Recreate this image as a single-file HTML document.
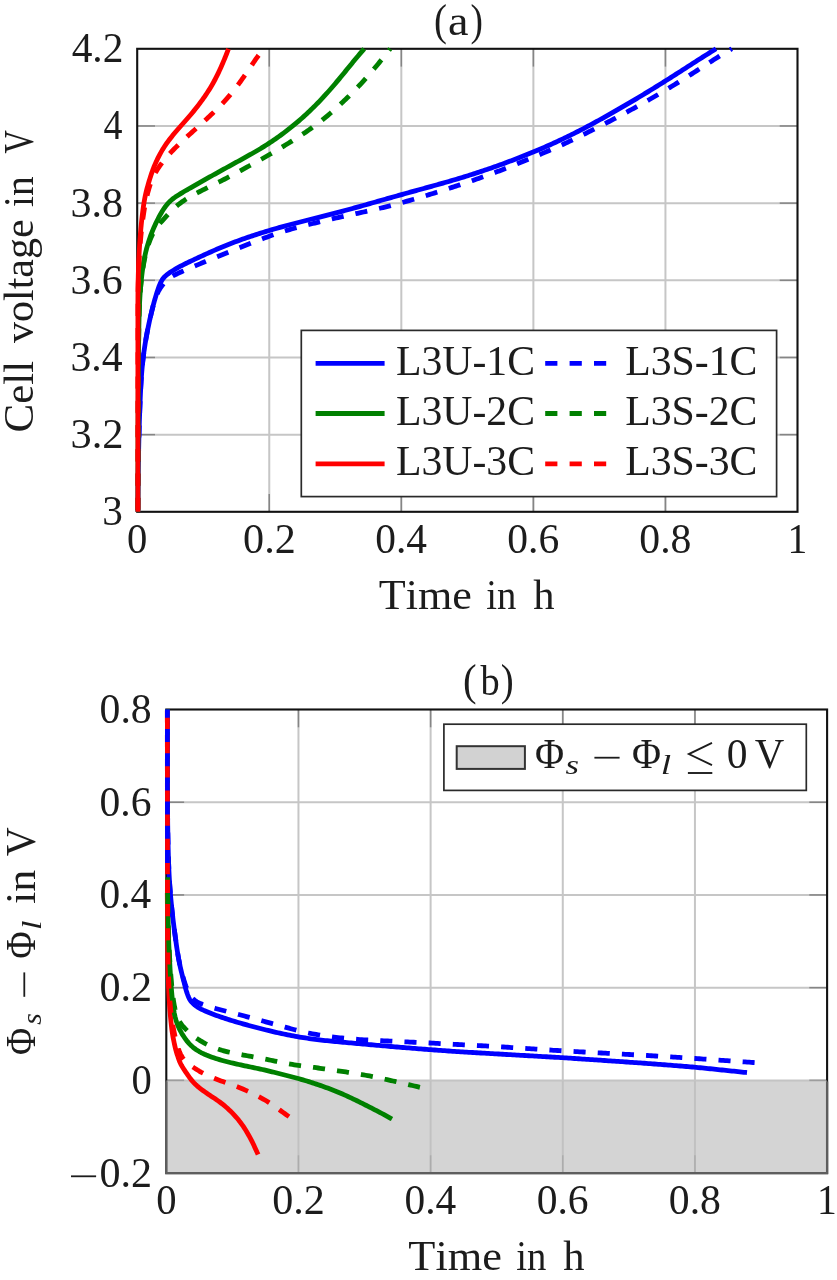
<!DOCTYPE html>
<html><head><meta charset="utf-8"><title>chart</title>
<style>
html,body{margin:0;padding:0;background:#fff;width:837px;height:1280px;overflow:hidden;}
svg{filter:blur(0.45px);}
svg text{font-family:"Liberation Serif",serif;fill:#1c1c1c;font-kerning:none;}
</style></head><body>
<svg width="837" height="1280" viewBox="0 0 837 1280" style="position:absolute;left:0;top:0">
<rect x="0" y="0" width="837" height="1280" fill="#ffffff"/>
<line x1="269.26" y1="48.80" x2="269.26" y2="511.80" stroke="#c6c6c6" stroke-width="2.0"/>
<line x1="401.32" y1="48.80" x2="401.32" y2="511.80" stroke="#c6c6c6" stroke-width="2.0"/>
<line x1="533.38" y1="48.80" x2="533.38" y2="511.80" stroke="#c6c6c6" stroke-width="2.0"/>
<line x1="665.44" y1="48.80" x2="665.44" y2="511.80" stroke="#c6c6c6" stroke-width="2.0"/>
<line x1="137.20" y1="434.63" x2="797.50" y2="434.63" stroke="#c6c6c6" stroke-width="2.0"/>
<line x1="137.20" y1="357.47" x2="797.50" y2="357.47" stroke="#c6c6c6" stroke-width="2.0"/>
<line x1="137.20" y1="280.30" x2="797.50" y2="280.30" stroke="#c6c6c6" stroke-width="2.0"/>
<line x1="137.20" y1="203.13" x2="797.50" y2="203.13" stroke="#c6c6c6" stroke-width="2.0"/>
<line x1="137.20" y1="125.97" x2="797.50" y2="125.97" stroke="#c6c6c6" stroke-width="2.0"/>
<line x1="269.26" y1="511.80" x2="269.26" y2="494.00" stroke="#858585" stroke-width="1.5"/>
<line x1="269.26" y1="48.80" x2="269.26" y2="66.60" stroke="#858585" stroke-width="1.5"/>
<line x1="401.32" y1="511.80" x2="401.32" y2="494.00" stroke="#858585" stroke-width="1.5"/>
<line x1="401.32" y1="48.80" x2="401.32" y2="66.60" stroke="#858585" stroke-width="1.5"/>
<line x1="533.38" y1="511.80" x2="533.38" y2="494.00" stroke="#858585" stroke-width="1.5"/>
<line x1="533.38" y1="48.80" x2="533.38" y2="66.60" stroke="#858585" stroke-width="1.5"/>
<line x1="665.44" y1="511.80" x2="665.44" y2="494.00" stroke="#858585" stroke-width="1.5"/>
<line x1="665.44" y1="48.80" x2="665.44" y2="66.60" stroke="#858585" stroke-width="1.5"/>
<line x1="137.20" y1="434.63" x2="155.00" y2="434.63" stroke="#858585" stroke-width="1.5"/>
<line x1="797.50" y1="434.63" x2="779.70" y2="434.63" stroke="#858585" stroke-width="1.5"/>
<line x1="137.20" y1="357.47" x2="155.00" y2="357.47" stroke="#858585" stroke-width="1.5"/>
<line x1="797.50" y1="357.47" x2="779.70" y2="357.47" stroke="#858585" stroke-width="1.5"/>
<line x1="137.20" y1="280.30" x2="155.00" y2="280.30" stroke="#858585" stroke-width="1.5"/>
<line x1="797.50" y1="280.30" x2="779.70" y2="280.30" stroke="#858585" stroke-width="1.5"/>
<line x1="137.20" y1="203.13" x2="155.00" y2="203.13" stroke="#858585" stroke-width="1.5"/>
<line x1="797.50" y1="203.13" x2="779.70" y2="203.13" stroke="#858585" stroke-width="1.5"/>
<line x1="137.20" y1="125.97" x2="155.00" y2="125.97" stroke="#858585" stroke-width="1.5"/>
<line x1="797.50" y1="125.97" x2="779.70" y2="125.97" stroke="#858585" stroke-width="1.5"/>
<rect x="137.20" y="48.80" width="660.30" height="463.00" fill="none" stroke="#111" stroke-width="2.1"/>
<path d="M137.90,511.80 L137.91,509.80 L137.93,507.80 L137.94,505.80 L137.96,503.80 L137.97,501.80 L137.99,499.80 L138.00,497.80 L138.01,495.80 L138.03,493.80 L138.04,491.80 L138.06,489.80 L138.08,487.80 L138.09,485.80 L138.11,483.80 L138.13,481.80 L138.15,479.80 L138.17,477.80 L138.19,475.80 L138.22,473.80 L138.25,471.80 L138.27,469.80 L138.30,467.80 L138.34,465.80 L138.37,463.80 L138.41,461.80 L138.44,459.80 L138.48,457.80 L138.52,455.80 L138.56,453.81 L138.61,451.81 L138.65,449.81 L138.69,447.81 L138.74,445.81 L138.78,443.81 L138.83,441.81 L138.87,439.81 L138.92,437.81 L138.97,435.81 L139.02,433.81 L139.07,431.81 L139.13,429.81 L139.18,427.81 L139.24,425.81 L139.30,423.81 L139.36,421.82 L139.43,419.82 L139.50,417.82 L139.56,415.82 L139.64,413.82 L139.71,411.82 L139.78,409.82 L139.86,407.83 L139.94,405.83 L140.02,403.83 L140.10,401.83 L140.18,399.83 L140.27,397.83 L140.35,395.84 L140.44,393.84 L140.54,391.84 L140.63,389.84 L140.74,387.85 L140.84,385.85 L140.96,383.85 L141.07,381.86 L141.20,379.86 L141.33,377.87 L141.47,375.87 L141.62,373.88 L141.78,371.89 L141.95,369.89 L142.12,367.90 L142.31,365.91 L142.51,363.92 L142.71,361.94 L142.93,359.95 L143.16,357.96 L143.40,355.98 L143.66,354.00 L143.92,352.02 L144.20,350.04 L144.49,348.06 L144.79,346.08 L145.10,344.11 L145.42,342.14 L145.75,340.17 L146.09,338.20 L146.45,336.23 L146.81,334.26 L147.18,332.30 L147.56,330.34 L147.95,328.38 L148.34,326.42 L148.75,324.46 L149.17,322.50 L149.59,320.55 L150.03,318.60 L150.48,316.65 L150.93,314.70 L151.38,312.76 L151.84,310.81 L152.32,308.87 L152.81,306.93 L153.31,305.00 L153.82,303.07 L154.35,301.14 L154.90,299.22 L155.46,297.30 L156.04,295.39 L156.63,293.48 L157.24,291.58 L157.87,289.68 L158.52,287.79 L159.21,285.92 L159.96,284.08 L160.78,282.27 L161.72,280.52 L162.78,278.85 L164.06,277.34 L165.49,275.96 L167.01,274.67 L168.60,273.47 L170.23,272.33 L171.90,271.23 L173.59,270.17 L175.30,269.14 L177.03,268.15 L178.78,267.18 L180.54,266.24 L182.31,265.31 L184.09,264.41 L185.88,263.52 L187.68,262.64 L189.48,261.77 L191.28,260.91 L193.09,260.05 L194.89,259.20 L196.71,258.36 L198.52,257.51 L200.33,256.67 L202.14,255.83 L203.96,254.99 L205.78,254.17 L207.60,253.34 L209.43,252.53 L211.26,251.72 L213.09,250.91 L214.92,250.11 L216.76,249.32 L218.59,248.54 L220.44,247.76 L222.28,246.99 L224.13,246.22 L225.98,245.47 L227.83,244.72 L229.69,243.98 L231.55,243.26 L233.42,242.54 L235.29,241.83 L237.16,241.13 L239.03,240.43 L240.91,239.75 L242.80,239.08 L244.68,238.42 L246.57,237.76 L248.46,237.12 L250.36,236.48 L252.25,235.85 L254.15,235.23 L256.06,234.61 L257.96,234.00 L259.87,233.39 L261.77,232.79 L263.68,232.20 L265.59,231.61 L267.51,231.03 L269.42,230.45 L271.34,229.88 L273.25,229.31 L275.17,228.75 L277.09,228.20 L279.02,227.65 L280.94,227.11 L282.87,226.58 L284.80,226.05 L286.73,225.53 L288.66,225.02 L290.59,224.51 L292.53,224.00 L294.46,223.50 L296.40,223.00 L298.34,222.50 L300.27,222.00 L302.21,221.51 L304.15,221.02 L306.09,220.52 L308.02,220.03 L309.96,219.53 L311.90,219.04 L313.84,218.55 L315.78,218.05 L317.71,217.56 L319.65,217.06 L321.59,216.57 L323.53,216.08 L325.47,215.58 L327.40,215.09 L329.34,214.59 L331.28,214.10 L333.22,213.60 L335.15,213.10 L337.09,212.59 L339.02,212.09 L340.96,211.58 L342.89,211.07 L344.82,210.55 L346.75,210.04 L348.69,209.51 L350.62,208.99 L352.54,208.46 L354.47,207.93 L356.40,207.40 L358.33,206.86 L360.25,206.32 L362.18,205.78 L364.10,205.24 L366.03,204.70 L367.95,204.15 L369.87,203.60 L371.80,203.05 L373.72,202.51 L375.64,201.96 L377.57,201.41 L379.49,200.86 L381.42,200.31 L383.34,199.77 L385.26,199.22 L387.19,198.67 L389.11,198.13 L391.03,197.58 L392.96,197.04 L394.88,196.49 L396.81,195.95 L398.73,195.41 L400.66,194.86 L402.58,194.32 L404.51,193.79 L406.44,193.25 L408.36,192.71 L410.29,192.18 L412.22,191.64 L414.14,191.11 L416.07,190.58 L418.00,190.05 L419.93,189.51 L421.86,188.98 L423.78,188.45 L425.71,187.92 L427.64,187.39 L429.57,186.85 L431.50,186.32 L433.42,185.78 L435.35,185.25 L437.28,184.71 L439.20,184.17 L441.13,183.63 L443.05,183.08 L444.97,182.54 L446.90,181.99 L448.82,181.43 L450.74,180.88 L452.66,180.32 L454.58,179.75 L456.49,179.18 L458.41,178.61 L460.33,178.03 L462.24,177.45 L464.15,176.86 L466.06,176.27 L467.97,175.68 L469.88,175.07 L471.78,174.47 L473.69,173.86 L475.59,173.24 L477.49,172.62 L479.39,172.00 L481.29,171.37 L483.19,170.74 L485.08,170.10 L486.98,169.46 L488.87,168.82 L490.76,168.17 L492.65,167.51 L494.53,166.85 L496.42,166.18 L498.30,165.51 L500.18,164.83 L502.06,164.14 L503.94,163.45 L505.81,162.75 L507.68,162.05 L509.55,161.35 L511.42,160.64 L513.29,159.92 L515.16,159.21 L517.03,158.49 L518.89,157.77 L520.75,157.04 L522.61,156.31 L524.47,155.58 L526.33,154.84 L528.19,154.09 L530.04,153.34 L531.89,152.59 L533.74,151.82 L535.59,151.06 L537.43,150.28 L539.27,149.50 L541.11,148.71 L542.95,147.92 L544.78,147.12 L546.61,146.32 L548.44,145.51 L550.26,144.70 L552.09,143.88 L553.91,143.05 L555.73,142.22 L557.54,141.38 L559.35,140.54 L561.16,139.68 L562.97,138.83 L564.77,137.96 L566.57,137.09 L568.37,136.22 L570.17,135.34 L571.96,134.45 L573.75,133.56 L575.53,132.66 L577.32,131.76 L579.10,130.85 L580.88,129.93 L582.65,129.01 L584.42,128.09 L586.19,127.16 L587.96,126.22 L589.72,125.28 L591.48,124.33 L593.24,123.38 L595.00,122.42 L596.75,121.45 L598.50,120.49 L600.25,119.52 L601.99,118.55 L603.74,117.57 L605.48,116.59 L607.23,115.61 L608.97,114.62 L610.71,113.64 L612.44,112.65 L614.18,111.66 L615.92,110.66 L617.65,109.67 L619.38,108.67 L621.12,107.67 L622.85,106.66 L624.58,105.66 L626.30,104.65 L628.03,103.65 L629.76,102.64 L631.48,101.62 L633.21,100.61 L634.93,99.59 L636.65,98.57 L638.37,97.55 L640.08,96.53 L641.80,95.50 L643.51,94.46 L645.22,93.43 L646.93,92.39 L648.64,91.35 L650.35,90.31 L652.05,89.26 L653.76,88.21 L655.46,87.16 L657.16,86.11 L658.86,85.06 L660.55,84.00 L662.25,82.94 L663.95,81.88 L665.64,80.82 L667.33,79.75 L669.02,78.68 L670.71,77.61 L672.40,76.54 L674.09,75.47 L675.77,74.39 L677.46,73.31 L679.14,72.23 L680.83,71.15 L682.51,70.07 L684.19,68.99 L685.87,67.91 L687.55,66.83 L689.23,65.74 L690.91,64.66 L692.59,63.58 L694.27,62.50 L695.95,61.43 L697.64,60.34 L699.32,59.26 L701.00,58.18 L702.69,57.11 L704.38,56.03 L706.07,54.97 L707.76,53.91 L709.46,52.85 L711.16,51.80 L712.86,50.74 L714.57,49.69 L716.00,48.80 L716.00,48.80" fill="none" stroke="#0000ff" stroke-width="4.8" stroke-linejoin="round"/>
<path d="M137.90,511.80 L137.91,509.80 L137.93,507.80 L137.94,505.80 L137.96,503.80 L137.97,501.80 L137.99,499.80 L138.00,497.80 L138.01,495.80 L138.03,493.80 L138.04,491.80 L138.06,489.80 L138.08,487.80 L138.09,485.80 L138.11,483.80 L138.13,481.80 L138.15,479.80 L138.17,477.80 L138.19,475.80 L138.22,473.80 L138.25,471.80 L138.27,469.80 L138.30,467.80 L138.34,465.80 L138.37,463.80 L138.41,461.80 L138.44,459.80 L138.48,457.80 L138.52,455.80 L138.56,453.81 L138.61,451.81 L138.65,449.81 L138.69,447.81 L138.74,445.81 L138.78,443.81 L138.83,441.81 L138.87,439.81 L138.92,437.81 L138.97,435.81 L139.02,433.81 L139.07,431.81 L139.13,429.81 L139.18,427.81 L139.24,425.81 L139.30,423.81 L139.36,421.82 L139.43,419.82 L139.50,417.82 L139.56,415.82 L139.64,413.82 L139.71,411.82 L139.78,409.82 L139.86,407.83 L139.94,405.83 L140.02,403.83 L140.10,401.83 L140.18,399.83 L140.27,397.83 L140.35,395.84 L140.44,393.84 L140.54,391.84 L140.63,389.84 L140.74,387.85 L140.84,385.85 L140.96,383.85 L141.07,381.86 L141.20,379.86 L141.33,377.87 L141.47,375.87 L141.62,373.88 L141.78,371.89 L141.95,369.89 L142.12,367.90 L142.31,365.91 L142.51,363.92 L142.71,361.94 L142.93,359.95 L143.16,357.96 L143.40,355.98 L143.66,354.00 L143.92,352.02 L144.20,350.04 L144.49,348.06 L144.79,346.08 L145.10,344.11 L145.42,342.14 L145.75,340.17 L146.09,338.20 L146.44,336.23 L146.81,334.26 L147.18,332.30 L147.56,330.34 L147.94,328.38 L148.34,326.42 L148.75,324.46 L149.17,322.51 L149.60,320.55 L150.04,318.61 L150.50,316.66 L150.95,314.72 L151.41,312.78 L151.89,310.84 L152.38,308.90 L152.88,306.97 L153.41,305.05 L153.96,303.13 L154.53,301.23 L155.15,299.34 L155.80,297.46 L156.51,295.61 L157.29,293.78 L158.13,291.99 L159.06,290.23 L160.07,288.52 L161.16,286.86 L162.33,285.24 L163.55,283.67 L164.84,282.15 L166.22,280.73 L167.72,279.43 L169.30,278.22 L170.93,277.09 L172.63,276.06 L174.37,275.11 L176.15,274.23 L177.95,273.38 L179.77,272.56 L181.59,271.74 L183.42,270.93 L185.25,270.13 L187.08,269.33 L188.91,268.53 L190.74,267.73 L192.58,266.94 L194.42,266.16 L196.26,265.38 L198.11,264.61 L199.95,263.84 L201.80,263.08 L203.65,262.31 L205.50,261.55 L207.35,260.80 L209.20,260.04 L211.05,259.29 L212.91,258.54 L214.76,257.79 L216.61,257.04 L218.47,256.29 L220.32,255.54 L222.17,254.78 L224.02,254.03 L225.87,253.27 L227.73,252.52 L229.58,251.76 L231.43,251.01 L233.28,250.25 L235.13,249.50 L236.99,248.75 L238.84,248.00 L240.70,247.25 L242.55,246.51 L244.41,245.77 L246.27,245.03 L248.13,244.29 L249.99,243.56 L251.85,242.83 L253.71,242.10 L255.58,241.38 L257.45,240.66 L259.31,239.95 L261.18,239.24 L263.05,238.53 L264.93,237.83 L266.80,237.14 L268.68,236.46 L270.56,235.78 L272.45,235.11 L274.33,234.45 L276.22,233.80 L278.12,233.16 L280.01,232.53 L281.91,231.92 L283.82,231.32 L285.73,230.73 L287.64,230.15 L289.56,229.58 L291.48,229.03 L293.40,228.49 L295.33,227.96 L297.26,227.44 L299.19,226.94 L301.13,226.43 L303.07,225.94 L305.00,225.45 L306.94,224.97 L308.89,224.49 L310.83,224.01 L312.77,223.54 L314.71,223.07 L316.66,222.60 L318.60,222.13 L320.55,221.66 L322.49,221.20 L324.44,220.74 L326.38,220.28 L328.33,219.82 L330.28,219.36 L332.23,218.91 L334.18,218.46 L336.12,218.01 L338.08,217.57 L340.03,217.13 L341.98,216.69 L343.93,216.26 L345.88,215.83 L347.84,215.40 L349.79,214.97 L351.74,214.55 L353.70,214.13 L355.65,213.70 L357.61,213.28 L359.56,212.86 L361.52,212.44 L363.47,212.02 L365.43,211.59 L367.38,211.16 L369.33,210.73 L371.28,210.29 L373.23,209.85 L375.18,209.41 L377.13,208.95 L379.08,208.50 L381.02,208.03 L382.97,207.56 L384.91,207.08 L386.85,206.60 L388.79,206.11 L390.72,205.61 L392.66,205.10 L394.59,204.59 L396.52,204.07 L398.45,203.55 L400.38,203.02 L402.31,202.49 L404.23,201.95 L406.16,201.41 L408.08,200.87 L410.01,200.32 L411.93,199.76 L413.85,199.21 L415.77,198.65 L417.69,198.08 L419.61,197.52 L421.52,196.95 L423.44,196.38 L425.35,195.80 L427.27,195.22 L429.18,194.64 L431.09,194.06 L433.01,193.47 L434.92,192.87 L436.82,192.28 L438.73,191.68 L440.64,191.08 L442.54,190.47 L444.45,189.86 L446.35,189.25 L448.26,188.63 L450.16,188.02 L452.06,187.39 L453.96,186.77 L455.86,186.15 L457.76,185.52 L459.66,184.89 L461.55,184.25 L463.45,183.62 L465.34,182.98 L467.24,182.34 L469.13,181.69 L471.02,181.05 L472.92,180.40 L474.81,179.74 L476.69,179.09 L478.58,178.43 L480.47,177.76 L482.35,177.09 L484.24,176.42 L486.12,175.75 L488.00,175.07 L489.88,174.38 L491.76,173.69 L493.63,173.00 L495.51,172.30 L497.38,171.60 L499.25,170.89 L501.12,170.18 L502.98,169.46 L504.85,168.74 L506.71,168.02 L508.57,167.29 L510.44,166.56 L512.30,165.82 L514.15,165.08 L516.01,164.34 L517.87,163.59 L519.72,162.85 L521.57,162.09 L523.43,161.34 L525.28,160.58 L527.13,159.83 L528.98,159.06 L530.83,158.30 L532.67,157.53 L534.52,156.76 L536.36,155.99 L538.21,155.22 L540.05,154.44 L541.89,153.66 L543.73,152.88 L545.57,152.09 L547.41,151.31 L549.25,150.51 L551.08,149.72 L552.91,148.92 L554.74,148.11 L556.57,147.30 L558.40,146.48 L560.22,145.66 L562.04,144.83 L563.85,144.00 L565.67,143.16 L567.48,142.31 L569.28,141.45 L571.09,140.59 L572.89,139.72 L574.69,138.85 L576.48,137.97 L578.28,137.09 L580.07,136.20 L581.86,135.31 L583.65,134.42 L585.44,133.53 L587.23,132.63 L589.02,131.73 L590.80,130.83 L592.59,129.94 L594.38,129.03 L596.16,128.13 L597.94,127.23 L599.73,126.32 L601.51,125.41 L603.29,124.50 L605.07,123.59 L606.85,122.67 L608.62,121.75 L610.40,120.83 L612.17,119.90 L613.94,118.97 L615.71,118.04 L617.47,117.10 L619.24,116.16 L621.00,115.22 L622.76,114.27 L624.53,113.33 L626.28,112.38 L628.04,111.42 L629.80,110.47 L631.55,109.51 L633.31,108.55 L635.06,107.58 L636.81,106.61 L638.56,105.64 L640.31,104.67 L642.05,103.70 L643.80,102.72 L645.54,101.74 L647.28,100.75 L649.02,99.76 L650.75,98.77 L652.48,97.77 L654.22,96.77 L655.94,95.76 L657.67,94.75 L659.39,93.74 L661.12,92.72 L662.84,91.70 L664.55,90.68 L666.27,89.65 L667.98,88.62 L669.70,87.59 L671.41,86.55 L673.11,85.51 L674.82,84.47 L676.53,83.42 L678.23,82.37 L679.93,81.32 L681.63,80.27 L683.33,79.21 L685.02,78.15 L686.72,77.09 L688.41,76.02 L690.10,74.95 L691.79,73.88 L693.47,72.80 L695.15,71.72 L696.84,70.64 L698.52,69.56 L700.20,68.47 L701.87,67.39 L703.55,66.30 L705.23,65.22 L706.91,64.13 L708.58,63.06 L710.26,61.98 L711.94,60.91 L713.62,59.82 L715.30,58.74 L716.99,57.67 L718.68,56.61 L720.38,55.55 L722.10,54.52 L723.82,53.50 L725.54,52.48 L727.27,51.46 L729.00,50.45 L730.73,49.43 L731.80,48.80 L731.80,48.80" fill="none" stroke="#0000ff" stroke-width="4.8" stroke-linejoin="round" stroke-dasharray="12.1 12.1" stroke-dashoffset="22.41"/>
<path d="M137.90,511.80 L137.90,509.80 L137.91,507.80 L137.91,505.80 L137.92,503.80 L137.92,501.80 L137.93,499.80 L137.93,497.80 L137.93,495.80 L137.94,493.80 L137.94,491.80 L137.95,489.80 L137.95,487.80 L137.96,485.80 L137.96,483.80 L137.97,481.80 L137.97,479.80 L137.97,477.80 L137.98,475.80 L137.98,473.80 L137.99,471.80 L137.99,469.80 L138.00,467.80 L138.00,465.80 L138.00,463.80 L138.01,461.80 L138.01,459.80 L138.02,457.80 L138.02,455.80 L138.03,453.80 L138.03,451.80 L138.04,449.80 L138.04,447.80 L138.04,445.80 L138.05,443.80 L138.05,441.80 L138.06,439.80 L138.06,437.80 L138.07,435.80 L138.07,433.80 L138.08,431.80 L138.08,429.80 L138.09,427.80 L138.10,425.80 L138.10,423.80 L138.11,421.80 L138.12,419.80 L138.13,417.80 L138.14,415.80 L138.15,413.80 L138.16,411.80 L138.17,409.80 L138.18,407.80 L138.19,405.80 L138.20,403.80 L138.22,401.80 L138.23,399.80 L138.24,397.80 L138.25,395.80 L138.26,393.80 L138.28,391.80 L138.29,389.80 L138.30,387.80 L138.31,385.80 L138.33,383.80 L138.34,381.80 L138.35,379.80 L138.36,377.80 L138.38,375.80 L138.39,373.80 L138.40,371.80 L138.41,369.80 L138.43,367.80 L138.44,365.80 L138.45,363.80 L138.47,361.80 L138.48,359.80 L138.49,357.80 L138.51,355.80 L138.52,353.80 L138.54,351.80 L138.56,349.80 L138.58,347.80 L138.60,345.80 L138.62,343.80 L138.64,341.80 L138.67,339.80 L138.70,337.80 L138.73,335.80 L138.76,333.80 L138.79,331.80 L138.82,329.80 L138.86,327.80 L138.90,325.81 L138.94,323.81 L138.98,321.81 L139.03,319.81 L139.08,317.81 L139.13,315.81 L139.19,313.81 L139.25,311.81 L139.32,309.81 L139.39,307.81 L139.47,305.82 L139.55,303.82 L139.65,301.82 L139.75,299.83 L139.86,297.83 L139.98,295.83 L140.11,293.84 L140.25,291.84 L140.40,289.85 L140.56,287.86 L140.73,285.87 L140.91,283.88 L141.10,281.89 L141.31,279.90 L141.52,277.91 L141.75,275.93 L141.99,273.94 L142.24,271.96 L142.51,269.98 L142.79,268.00 L143.08,266.03 L143.39,264.05 L143.72,262.09 L144.07,260.12 L144.44,258.16 L144.83,256.21 L145.25,254.26 L145.69,252.31 L146.16,250.38 L146.65,248.45 L147.18,246.53 L147.73,244.62 L148.32,242.72 L148.93,240.82 L149.53,238.93 L150.17,237.04 L150.84,235.16 L151.54,233.30 L152.27,231.44 L153.03,229.60 L153.82,227.76 L154.63,225.94 L155.47,224.12 L156.32,222.32 L157.20,220.52 L158.10,218.74 L159.02,216.97 L159.97,215.21 L160.95,213.46 L161.96,211.74 L163.01,210.04 L164.11,208.37 L165.26,206.75 L166.48,205.16 L167.75,203.63 L169.12,202.18 L170.55,200.80 L172.05,199.49 L173.62,198.26 L175.23,197.10 L176.88,195.99 L178.56,194.91 L180.26,193.86 L181.97,192.83 L183.69,191.81 L185.41,190.80 L187.14,189.80 L188.87,188.79 L190.60,187.80 L192.33,186.80 L194.07,185.81 L195.81,184.82 L197.54,183.83 L199.28,182.85 L201.02,181.86 L202.77,180.88 L204.51,179.89 L206.25,178.92 L208.00,177.94 L209.74,176.96 L211.49,175.99 L213.24,175.02 L214.98,174.04 L216.73,173.07 L218.48,172.10 L220.23,171.14 L221.98,170.17 L223.73,169.20 L225.49,168.24 L227.24,167.27 L228.99,166.31 L230.74,165.34 L232.50,164.38 L234.25,163.42 L236.00,162.45 L237.75,161.49 L239.51,160.53 L241.26,159.56 L243.01,158.60 L244.76,157.63 L246.51,156.66 L248.25,155.69 L250.00,154.71 L251.74,153.72 L253.47,152.73 L255.21,151.74 L256.93,150.73 L258.66,149.72 L260.37,148.69 L262.08,147.65 L263.78,146.61 L265.47,145.54 L267.16,144.47 L268.83,143.38 L270.50,142.29 L272.16,141.18 L273.81,140.05 L275.46,138.92 L277.10,137.77 L278.73,136.62 L280.35,135.45 L281.96,134.28 L283.57,133.09 L285.17,131.89 L286.76,130.68 L288.34,129.46 L289.91,128.23 L291.48,126.98 L293.03,125.73 L294.57,124.46 L296.10,123.18 L297.63,121.88 L299.14,120.58 L300.64,119.27 L302.14,117.94 L303.62,116.60 L305.10,115.26 L306.57,113.90 L308.03,112.54 L309.48,111.17 L310.93,109.79 L312.36,108.40 L313.79,107.00 L315.21,105.59 L316.61,104.17 L318.01,102.74 L319.40,101.31 L320.78,99.86 L322.15,98.41 L323.51,96.94 L324.86,95.47 L326.21,93.99 L327.54,92.50 L328.87,91.01 L330.19,89.51 L331.50,88.00 L332.81,86.49 L334.11,84.97 L335.40,83.45 L336.69,81.92 L337.98,80.38 L339.26,78.85 L340.53,77.31 L341.80,75.77 L343.07,74.22 L344.34,72.68 L345.60,71.13 L346.86,69.59 L348.12,68.05 L349.38,66.51 L350.64,64.95 L351.90,63.40 L353.16,61.85 L354.42,60.30 L355.70,58.75 L356.98,57.21 L358.27,55.69 L359.58,54.17 L360.88,52.65 L362.20,51.13 L363.51,49.60 L364.20,48.80 L364.20,48.80" fill="none" stroke="#008000" stroke-width="4.8" stroke-linejoin="round"/>
<path d="M137.90,511.80 L137.90,509.80 L137.91,507.80 L137.91,505.80 L137.92,503.80 L137.92,501.80 L137.93,499.80 L137.93,497.80 L137.93,495.80 L137.94,493.80 L137.94,491.80 L137.95,489.80 L137.95,487.80 L137.96,485.80 L137.96,483.80 L137.97,481.80 L137.97,479.80 L137.97,477.80 L137.98,475.80 L137.98,473.80 L137.99,471.80 L137.99,469.80 L138.00,467.80 L138.00,465.80 L138.00,463.80 L138.01,461.80 L138.01,459.80 L138.02,457.80 L138.02,455.80 L138.03,453.80 L138.03,451.80 L138.04,449.80 L138.04,447.80 L138.04,445.80 L138.05,443.80 L138.05,441.80 L138.06,439.80 L138.06,437.80 L138.07,435.80 L138.07,433.80 L138.08,431.80 L138.08,429.80 L138.09,427.80 L138.10,425.80 L138.10,423.80 L138.11,421.80 L138.12,419.80 L138.13,417.80 L138.14,415.80 L138.15,413.80 L138.16,411.80 L138.17,409.80 L138.18,407.80 L138.19,405.80 L138.20,403.80 L138.22,401.80 L138.23,399.80 L138.24,397.80 L138.25,395.80 L138.26,393.80 L138.28,391.80 L138.29,389.80 L138.30,387.80 L138.31,385.80 L138.33,383.80 L138.34,381.80 L138.35,379.80 L138.36,377.80 L138.38,375.80 L138.39,373.80 L138.40,371.80 L138.41,369.80 L138.43,367.80 L138.44,365.80 L138.45,363.80 L138.47,361.80 L138.48,359.80 L138.49,357.80 L138.51,355.80 L138.52,353.80 L138.54,351.80 L138.56,349.80 L138.58,347.80 L138.60,345.80 L138.62,343.80 L138.64,341.80 L138.67,339.80 L138.70,337.80 L138.73,335.80 L138.76,333.80 L138.79,331.80 L138.82,329.80 L138.86,327.80 L138.90,325.81 L138.94,323.81 L138.98,321.81 L139.03,319.81 L139.08,317.81 L139.13,315.81 L139.19,313.81 L139.25,311.81 L139.32,309.81 L139.39,307.81 L139.47,305.82 L139.56,303.82 L139.65,301.82 L139.76,299.83 L139.87,297.83 L140.00,295.84 L140.13,293.84 L140.28,291.85 L140.43,289.86 L140.60,287.86 L140.78,285.87 L140.98,283.88 L141.18,281.90 L141.40,279.91 L141.63,277.93 L141.88,275.94 L142.13,273.96 L142.41,271.98 L142.69,270.00 L142.99,268.03 L143.31,266.06 L143.64,264.09 L143.99,262.12 L144.36,260.16 L144.75,258.21 L145.17,256.26 L145.61,254.32 L146.08,252.39 L146.58,250.47 L147.12,248.56 L147.69,246.67 L148.31,244.80 L148.98,242.95 L149.68,241.11 L150.37,239.26 L151.11,237.44 L151.91,235.65 L152.77,233.88 L153.69,232.15 L154.69,230.45 L155.75,228.79 L156.89,227.18 L158.09,225.60 L159.35,224.06 L160.65,222.55 L161.97,221.05 L163.31,219.57 L164.65,218.09 L165.99,216.60 L167.33,215.12 L168.68,213.65 L170.05,212.20 L171.47,210.79 L172.91,209.41 L174.38,208.05 L175.87,206.72 L177.39,205.43 L178.95,204.18 L180.53,202.97 L182.14,201.80 L183.78,200.66 L185.45,199.57 L187.14,198.50 L188.84,197.47 L190.57,196.47 L192.31,195.49 L194.06,194.53 L195.82,193.59 L197.59,192.67 L199.37,191.76 L201.15,190.86 L202.94,189.96 L204.72,189.06 L206.51,188.17 L208.30,187.28 L210.09,186.40 L211.88,185.52 L213.68,184.64 L215.47,183.75 L217.26,182.86 L219.05,181.97 L220.83,181.07 L222.62,180.16 L224.39,179.25 L226.17,178.33 L227.94,177.40 L229.71,176.47 L231.47,175.53 L233.23,174.59 L234.99,173.64 L236.75,172.69 L238.51,171.73 L240.27,170.78 L242.02,169.82 L243.78,168.86 L245.53,167.90 L247.29,166.95 L249.05,165.99 L250.80,165.03 L252.56,164.07 L254.31,163.11 L256.06,162.15 L257.81,161.18 L259.56,160.21 L261.31,159.24 L263.05,158.26 L264.79,157.27 L266.53,156.28 L268.26,155.29 L269.99,154.28 L271.72,153.28 L273.44,152.26 L275.16,151.24 L276.88,150.22 L278.59,149.19 L280.31,148.16 L282.02,147.13 L283.73,146.09 L285.43,145.05 L287.14,144.00 L288.84,142.96 L290.54,141.91 L292.24,140.85 L293.94,139.79 L295.63,138.73 L297.32,137.65 L299.00,136.57 L300.67,135.49 L302.34,134.39 L304.01,133.28 L305.66,132.16 L307.31,131.03 L308.95,129.89 L310.58,128.73 L312.20,127.57 L313.81,126.39 L315.42,125.20 L317.01,124.00 L318.60,122.79 L320.18,121.57 L321.75,120.34 L323.32,119.09 L324.87,117.84 L326.41,116.57 L327.95,115.29 L329.48,114.00 L330.99,112.70 L332.50,111.40 L334.01,110.08 L335.50,108.75 L336.99,107.41 L338.47,106.07 L339.94,104.72 L341.40,103.36 L342.86,101.99 L344.31,100.61 L345.75,99.23 L347.19,97.84 L348.62,96.44 L350.04,95.04 L351.45,93.63 L352.86,92.21 L354.26,90.78 L355.65,89.35 L357.04,87.90 L358.41,86.45 L359.78,85.00 L361.14,83.53 L362.48,82.06 L363.83,80.57 L365.16,79.09 L366.48,77.59 L367.80,76.09 L369.11,74.58 L370.41,73.06 L371.71,71.55 L373.00,70.02 L374.28,68.50 L375.56,66.97 L376.85,65.45 L378.13,63.91 L379.41,62.37 L380.68,60.83 L381.95,59.28 L383.21,57.72 L384.46,56.16 L385.70,54.59 L386.93,53.01 L388.16,51.43 L389.39,49.84 L390.20,48.80 L390.20,48.80" fill="none" stroke="#008000" stroke-width="4.8" stroke-linejoin="round" stroke-dasharray="12.1 12.1" stroke-dashoffset="22.44"/>
<path d="M137.90,511.80 L137.90,509.80 L137.90,507.80 L137.90,505.80 L137.90,503.80 L137.90,501.80 L137.90,499.80 L137.90,497.80 L137.90,495.80 L137.90,493.80 L137.90,491.80 L137.90,489.80 L137.90,487.80 L137.90,485.80 L137.90,483.80 L137.90,481.80 L137.90,479.80 L137.90,477.80 L137.90,475.80 L137.90,473.80 L137.90,471.80 L137.90,469.80 L137.90,467.80 L137.90,465.80 L137.90,463.80 L137.90,461.80 L137.90,459.80 L137.90,457.80 L137.90,455.80 L137.90,453.80 L137.90,451.80 L137.90,449.80 L137.90,447.80 L137.90,445.80 L137.90,443.80 L137.90,441.80 L137.90,439.80 L137.90,437.80 L137.90,435.80 L137.90,433.80 L137.90,431.80 L137.90,429.80 L137.90,427.80 L137.90,425.80 L137.90,423.80 L137.90,421.80 L137.90,419.80 L137.90,417.80 L137.90,415.80 L137.90,413.80 L137.90,411.80 L137.90,409.80 L137.90,407.80 L137.90,405.80 L137.90,403.80 L137.90,401.80 L137.90,399.80 L137.90,397.80 L137.90,395.80 L137.90,393.80 L137.90,391.80 L137.90,389.80 L137.90,387.80 L137.90,385.80 L137.90,383.80 L137.90,381.80 L137.90,379.80 L137.90,377.80 L137.90,375.80 L137.90,373.80 L137.90,371.80 L137.90,369.80 L137.90,367.80 L137.90,365.80 L137.90,363.80 L137.90,361.80 L137.90,359.80 L137.90,357.80 L137.90,355.80 L137.90,353.80 L137.90,351.80 L137.90,349.80 L137.90,347.80 L137.90,345.80 L137.90,343.80 L137.90,341.80 L137.90,339.80 L137.90,337.80 L137.90,335.80 L137.90,333.80 L137.90,331.80 L137.90,329.80 L137.90,327.80 L137.90,325.80 L137.90,323.80 L137.90,321.80 L137.90,319.80 L137.90,317.80 L137.90,315.80 L137.90,313.80 L137.90,311.80 L137.90,309.80 L137.90,307.80 L137.91,305.80 L137.91,303.80 L137.91,301.80 L137.92,299.80 L137.93,297.80 L137.94,295.80 L137.96,293.80 L137.98,291.80 L138.00,289.80 L138.02,287.80 L138.06,285.80 L138.09,283.80 L138.13,281.80 L138.17,279.80 L138.22,277.80 L138.27,275.80 L138.32,273.81 L138.38,271.81 L138.44,269.81 L138.51,267.81 L138.58,265.81 L138.65,263.81 L138.73,261.81 L138.82,259.82 L138.91,257.82 L139.00,255.82 L139.10,253.82 L139.21,251.83 L139.32,249.83 L139.44,247.83 L139.56,245.84 L139.69,243.84 L139.82,241.85 L139.96,239.85 L140.11,237.86 L140.26,235.86 L140.42,233.87 L140.59,231.88 L140.76,229.89 L140.94,227.89 L141.13,225.90 L141.32,223.91 L141.53,221.92 L141.74,219.94 L141.96,217.95 L142.19,215.96 L142.43,213.98 L142.67,211.99 L142.93,210.01 L143.19,208.03 L143.48,206.05 L143.78,204.08 L144.10,202.11 L144.44,200.14 L144.80,198.18 L145.19,196.22 L145.61,194.27 L146.06,192.32 L146.54,190.38 L147.04,188.45 L147.56,186.52 L148.10,184.59 L148.65,182.67 L149.22,180.75 L149.81,178.84 L150.41,176.93 L151.04,175.04 L151.68,173.14 L152.34,171.26 L153.02,169.38 L153.73,167.51 L154.48,165.66 L155.26,163.82 L156.07,162.00 L156.91,160.19 L157.78,158.39 L158.68,156.61 L159.60,154.84 L160.54,153.08 L161.52,151.35 L162.53,149.63 L163.58,147.93 L164.66,146.26 L165.77,144.62 L166.91,142.99 L168.09,141.38 L169.27,139.78 L170.48,138.20 L171.72,136.64 L172.97,135.09 L174.25,133.55 L175.53,132.03 L176.84,130.51 L178.15,129.00 L179.47,127.50 L180.79,126.00 L182.11,124.51 L183.44,123.01 L184.77,121.51 L186.09,120.01 L187.41,118.51 L188.72,117.00 L190.02,115.49 L191.31,113.96 L192.59,112.43 L193.86,110.89 L195.11,109.33 L196.35,107.77 L197.58,106.19 L198.79,104.60 L199.99,103.01 L201.18,101.40 L202.35,99.79 L203.51,98.16 L204.66,96.52 L205.79,94.88 L206.90,93.22 L207.99,91.55 L209.07,89.87 L210.12,88.17 L211.15,86.47 L212.16,84.74 L213.15,83.01 L214.11,81.26 L215.05,79.50 L215.98,77.73 L216.88,75.95 L217.76,74.16 L218.62,72.36 L219.46,70.56 L220.28,68.74 L221.10,66.92 L221.92,65.10 L222.72,63.27 L223.49,61.43 L224.26,59.58 L225.01,57.73 L225.77,55.88 L226.52,54.02 L227.25,52.16 L227.95,50.28 L228.50,48.80 L228.50,48.80" fill="none" stroke="#ff0000" stroke-width="4.8" stroke-linejoin="round"/>
<path d="M137.90,511.80 L137.90,509.80 L137.90,507.80 L137.90,505.80 L137.90,503.80 L137.90,501.80 L137.90,499.80 L137.90,497.80 L137.90,495.80 L137.90,493.80 L137.90,491.80 L137.90,489.80 L137.90,487.80 L137.90,485.80 L137.90,483.80 L137.90,481.80 L137.90,479.80 L137.90,477.80 L137.90,475.80 L137.90,473.80 L137.90,471.80 L137.90,469.80 L137.90,467.80 L137.90,465.80 L137.90,463.80 L137.90,461.80 L137.90,459.80 L137.90,457.80 L137.90,455.80 L137.90,453.80 L137.90,451.80 L137.90,449.80 L137.90,447.80 L137.90,445.80 L137.90,443.80 L137.90,441.80 L137.90,439.80 L137.90,437.80 L137.90,435.80 L137.90,433.80 L137.90,431.80 L137.90,429.80 L137.90,427.80 L137.90,425.80 L137.90,423.80 L137.90,421.80 L137.90,419.80 L137.90,417.80 L137.90,415.80 L137.90,413.80 L137.90,411.80 L137.90,409.80 L137.90,407.80 L137.90,405.80 L137.90,403.80 L137.90,401.80 L137.90,399.80 L137.90,397.80 L137.90,395.80 L137.90,393.80 L137.90,391.80 L137.90,389.80 L137.90,387.80 L137.90,385.80 L137.90,383.80 L137.90,381.80 L137.90,379.80 L137.90,377.80 L137.90,375.80 L137.90,373.80 L137.90,371.80 L137.90,369.80 L137.90,367.80 L137.90,365.80 L137.90,363.80 L137.90,361.80 L137.90,359.80 L137.90,357.80 L137.90,355.80 L137.90,353.80 L137.90,351.80 L137.90,349.80 L137.90,347.80 L137.90,345.80 L137.90,343.80 L137.90,341.80 L137.90,339.80 L137.90,337.80 L137.90,335.80 L137.91,333.80 L137.91,331.80 L137.91,329.80 L137.91,327.80 L137.92,325.80 L137.92,323.80 L137.92,321.80 L137.93,319.80 L137.93,317.80 L137.94,315.80 L137.94,313.80 L137.95,311.80 L137.95,309.80 L137.96,307.80 L137.97,305.80 L137.98,303.80 L137.99,301.80 L138.00,299.80 L138.02,297.80 L138.04,295.80 L138.06,293.80 L138.09,291.80 L138.12,289.80 L138.16,287.80 L138.20,285.80 L138.25,283.80 L138.30,281.81 L138.36,279.81 L138.42,277.81 L138.48,275.81 L138.55,273.81 L138.63,271.81 L138.71,269.81 L138.79,267.82 L138.88,265.82 L138.97,263.82 L139.07,261.82 L139.17,259.83 L139.28,257.83 L139.40,255.83 L139.52,253.84 L139.65,251.84 L139.79,249.85 L139.93,247.85 L140.08,245.86 L140.23,243.86 L140.39,241.87 L140.56,239.88 L140.74,237.89 L140.93,235.90 L141.12,233.91 L141.32,231.92 L141.53,229.93 L141.75,227.94 L141.98,225.95 L142.21,223.97 L142.46,221.99 L142.72,220.00 L142.99,218.02 L143.27,216.04 L143.56,214.07 L143.86,212.09 L144.17,210.12 L144.51,208.15 L144.86,206.18 L145.22,204.22 L145.61,202.26 L146.02,200.30 L146.45,198.35 L146.89,196.40 L147.36,194.46 L147.86,192.52 L148.38,190.60 L148.92,188.67 L149.50,186.76 L150.11,184.86 L150.76,182.97 L151.44,181.10 L152.18,179.24 L152.96,177.41 L153.83,175.62 L154.76,173.86 L155.74,172.13 L156.78,170.42 L157.85,168.74 L158.96,167.08 L160.10,165.44 L161.27,163.83 L162.47,162.23 L163.70,160.66 L164.96,159.12 L166.24,157.59 L167.55,156.08 L168.88,154.59 L170.23,153.12 L171.59,151.66 L172.97,150.22 L174.37,148.79 L175.78,147.38 L177.20,145.97 L178.63,144.57 L180.06,143.19 L181.51,141.81 L182.97,140.44 L184.44,139.08 L185.91,137.73 L187.39,136.38 L188.87,135.04 L190.35,133.70 L191.84,132.36 L193.32,131.03 L194.81,129.69 L196.30,128.35 L197.78,127.01 L199.27,125.67 L200.75,124.32 L202.22,122.98 L203.70,121.63 L205.17,120.27 L206.64,118.92 L208.10,117.55 L209.56,116.18 L211.01,114.81 L212.46,113.43 L213.90,112.04 L215.33,110.65 L216.75,109.24 L218.17,107.83 L219.57,106.41 L220.97,104.98 L222.35,103.54 L223.72,102.09 L225.07,100.62 L226.41,99.14 L227.73,97.64 L229.04,96.13 L230.33,94.60 L231.60,93.07 L232.86,91.51 L234.10,89.95 L235.33,88.38 L236.54,86.79 L237.75,85.19 L238.94,83.59 L240.12,81.98 L241.29,80.36 L242.45,78.73 L243.61,77.10 L244.75,75.47 L245.89,73.83 L247.02,72.19 L248.16,70.55 L249.28,68.90 L250.40,67.24 L251.52,65.58 L252.62,63.91 L253.72,62.24 L254.83,60.57 L255.97,58.92 L257.14,57.30 L258.29,55.72 L258.60,55.30" fill="none" stroke="#ff0000" stroke-width="4.8" stroke-linejoin="round" stroke-dasharray="12.1 12.1" stroke-dashoffset="21.98"/>
<rect x="301.3" y="330.4" width="475.3" height="166.2" fill="#fff" stroke="#2a2a2a" stroke-width="1.7"/>
<line x1="315.6" y1="363.30" x2="384.6" y2="363.30" stroke="#0000ff" stroke-width="4.8"/>
<line x1="545.2" y1="363.30" x2="613.8" y2="363.30" stroke="#0000ff" stroke-width="4.8" stroke-dasharray="12.2 12.2"/>
<text x="395.90" y="374.80" font-size="42.50" textLength="139.21" lengthAdjust="spacingAndGlyphs" style="" >L3U-1C</text>
<text x="625.20" y="374.80" font-size="42.50" textLength="132.31" lengthAdjust="spacingAndGlyphs" style="" >L3S-1C</text>
<line x1="315.6" y1="413.50" x2="384.6" y2="413.50" stroke="#008000" stroke-width="4.8"/>
<line x1="545.2" y1="413.50" x2="613.8" y2="413.50" stroke="#008000" stroke-width="4.8" stroke-dasharray="12.2 12.2"/>
<text x="395.90" y="425.00" font-size="42.50" textLength="139.21" lengthAdjust="spacingAndGlyphs" style="" >L3U-2C</text>
<text x="625.20" y="425.00" font-size="42.50" textLength="132.31" lengthAdjust="spacingAndGlyphs" style="" >L3S-2C</text>
<line x1="315.6" y1="463.80" x2="384.6" y2="463.80" stroke="#ff0000" stroke-width="4.8"/>
<line x1="545.2" y1="463.80" x2="613.8" y2="463.80" stroke="#ff0000" stroke-width="4.8" stroke-dasharray="12.2 12.2"/>
<text x="395.90" y="475.30" font-size="42.50" textLength="139.21" lengthAdjust="spacingAndGlyphs" style="" >L3U-3C</text>
<text x="625.20" y="475.30" font-size="42.50" textLength="132.31" lengthAdjust="spacingAndGlyphs" style="" >L3S-3C</text>
<text x="127.04" y="553.30" font-size="42.00" textLength="20.31" lengthAdjust="spacingAndGlyphs" style="" >0</text>
<text x="243.10" y="553.30" font-size="42.00" textLength="52.63" lengthAdjust="spacingAndGlyphs" style="" >0.2</text>
<text x="375.19" y="553.30" font-size="42.00" textLength="51.74" lengthAdjust="spacingAndGlyphs" style="" >0.4</text>
<text x="507.24" y="553.30" font-size="42.00" textLength="51.93" lengthAdjust="spacingAndGlyphs" style="" >0.6</text>
<text x="639.30" y="553.30" font-size="42.00" textLength="52.08" lengthAdjust="spacingAndGlyphs" style="" >0.8</text>
<text x="787.46" y="553.30" font-size="42.00" textLength="19.80" lengthAdjust="spacingAndGlyphs" style="" >1</text>
<text x="102.37" y="525.30" font-size="42.00" textLength="20.59" lengthAdjust="spacingAndGlyphs" style="" >3</text>
<text x="70.42" y="448.13" font-size="42.00" textLength="53.07" lengthAdjust="spacingAndGlyphs" style="" >3.2</text>
<text x="70.45" y="370.97" font-size="42.00" textLength="52.17" lengthAdjust="spacingAndGlyphs" style="" >3.4</text>
<text x="70.45" y="293.80" font-size="42.00" textLength="52.36" lengthAdjust="spacingAndGlyphs" style="" >3.6</text>
<text x="70.44" y="216.63" font-size="42.00" textLength="52.52" lengthAdjust="spacingAndGlyphs" style="" >3.8</text>
<text x="103.60" y="139.47" font-size="42.00" textLength="18.96" lengthAdjust="spacingAndGlyphs" style="" >4</text>
<text x="71.64" y="62.30" font-size="42.00" textLength="51.80" lengthAdjust="spacingAndGlyphs" style="" >4.2</text>
<text x="378.80" y="609.20" font-size="42.50" textLength="93.13" lengthAdjust="spacingAndGlyphs" style="" >Time</text>
<text x="486.29" y="609.20" font-size="42.50" textLength="30.10" lengthAdjust="spacingAndGlyphs" style="" >in</text>
<text x="533.28" y="609.20" font-size="42.50" textLength="21.28" lengthAdjust="spacingAndGlyphs" style="" >h</text>
<g transform="translate(33.2,0) rotate(-90)"><text x="-432.47" y="0.00" font-size="42.50" textLength="71.73" lengthAdjust="spacingAndGlyphs" style="" >Cell</text><text x="-343.00" y="0.00" font-size="42.50" textLength="123.66" lengthAdjust="spacingAndGlyphs" style="" >voltage</text><text x="-207.03" y="0.00" font-size="42.50" textLength="30.62" lengthAdjust="spacingAndGlyphs" style="" >in</text><text x="-153.46" y="0.00" font-size="42.50" textLength="23.33" lengthAdjust="spacingAndGlyphs" style="" >V</text></g>
<text x="434.09" y="34.90" font-size="45.00" textLength="12.97" lengthAdjust="spacingAndGlyphs" style="" >(</text>
<text x="447.98" y="34.70" font-size="41.50" textLength="20.45" lengthAdjust="spacingAndGlyphs" style="" >a</text>
<text x="470.40" y="34.90" font-size="45.00" textLength="12.45" lengthAdjust="spacingAndGlyphs" style="" >)</text>
<line x1="298.46" y1="709.50" x2="298.46" y2="1173.10" stroke="#c6c6c6" stroke-width="2.0"/>
<line x1="430.62" y1="709.50" x2="430.62" y2="1173.10" stroke="#c6c6c6" stroke-width="2.0"/>
<line x1="562.78" y1="709.50" x2="562.78" y2="1173.10" stroke="#c6c6c6" stroke-width="2.0"/>
<line x1="694.94" y1="709.50" x2="694.94" y2="1173.10" stroke="#c6c6c6" stroke-width="2.0"/>
<line x1="166.30" y1="1080.38" x2="827.10" y2="1080.38" stroke="#c6c6c6" stroke-width="2.0"/>
<line x1="166.30" y1="987.66" x2="827.10" y2="987.66" stroke="#c6c6c6" stroke-width="2.0"/>
<line x1="166.30" y1="894.94" x2="827.10" y2="894.94" stroke="#c6c6c6" stroke-width="2.0"/>
<line x1="166.30" y1="802.22" x2="827.10" y2="802.22" stroke="#c6c6c6" stroke-width="2.0"/>
<line x1="298.46" y1="1173.10" x2="298.46" y2="1155.30" stroke="#858585" stroke-width="1.5"/>
<line x1="298.46" y1="709.50" x2="298.46" y2="727.30" stroke="#858585" stroke-width="1.5"/>
<line x1="430.62" y1="1173.10" x2="430.62" y2="1155.30" stroke="#858585" stroke-width="1.5"/>
<line x1="430.62" y1="709.50" x2="430.62" y2="727.30" stroke="#858585" stroke-width="1.5"/>
<line x1="562.78" y1="1173.10" x2="562.78" y2="1155.30" stroke="#858585" stroke-width="1.5"/>
<line x1="562.78" y1="709.50" x2="562.78" y2="727.30" stroke="#858585" stroke-width="1.5"/>
<line x1="694.94" y1="1173.10" x2="694.94" y2="1155.30" stroke="#858585" stroke-width="1.5"/>
<line x1="694.94" y1="709.50" x2="694.94" y2="727.30" stroke="#858585" stroke-width="1.5"/>
<line x1="166.30" y1="1080.38" x2="184.10" y2="1080.38" stroke="#858585" stroke-width="1.5"/>
<line x1="827.10" y1="1080.38" x2="809.30" y2="1080.38" stroke="#858585" stroke-width="1.5"/>
<line x1="166.30" y1="987.66" x2="184.10" y2="987.66" stroke="#858585" stroke-width="1.5"/>
<line x1="827.10" y1="987.66" x2="809.30" y2="987.66" stroke="#858585" stroke-width="1.5"/>
<line x1="166.30" y1="894.94" x2="184.10" y2="894.94" stroke="#858585" stroke-width="1.5"/>
<line x1="827.10" y1="894.94" x2="809.30" y2="894.94" stroke="#858585" stroke-width="1.5"/>
<line x1="166.30" y1="802.22" x2="184.10" y2="802.22" stroke="#858585" stroke-width="1.5"/>
<line x1="827.10" y1="802.22" x2="809.30" y2="802.22" stroke="#858585" stroke-width="1.5"/>
<rect x="166.30" y="709.50" width="660.80" height="463.60" fill="none" stroke="#111" stroke-width="2.1"/>
<rect x="166.30" y="1080.38" width="660.80" height="92.72" fill="#bfbfbf" fill-opacity="0.67"/>
<path d="M166.30,1081.58 L166.30,1173.10 L827.10,1173.10 L827.10,1081.58" fill="none" stroke="#5e5e5e" stroke-width="2.3" stroke-linejoin="miter"/>
<path d="M167.40,709.50 L167.40,711.50 L167.40,713.50 L167.41,715.50 L167.41,717.50 L167.41,719.50 L167.41,721.50 L167.42,723.50 L167.42,725.50 L167.42,727.50 L167.42,729.50 L167.42,731.50 L167.43,733.50 L167.43,735.50 L167.43,737.50 L167.43,739.50 L167.44,741.50 L167.44,743.50 L167.44,745.50 L167.44,747.50 L167.44,749.50 L167.45,751.50 L167.45,753.50 L167.45,755.50 L167.45,757.50 L167.46,759.50 L167.46,761.50 L167.46,763.50 L167.46,765.50 L167.46,767.50 L167.47,769.50 L167.47,771.50 L167.47,773.50 L167.47,775.50 L167.48,777.50 L167.48,779.50 L167.48,781.50 L167.48,783.50 L167.49,785.50 L167.49,787.50 L167.49,789.50 L167.49,791.50 L167.50,793.50 L167.50,795.50 L167.51,797.50 L167.51,799.50 L167.52,801.50 L167.53,803.50 L167.54,805.50 L167.55,807.50 L167.56,809.50 L167.57,811.50 L167.59,813.50 L167.61,815.50 L167.62,817.50 L167.65,819.50 L167.67,821.50 L167.69,823.50 L167.72,825.50 L167.75,827.50 L167.78,829.50 L167.82,831.50 L167.85,833.50 L167.89,835.50 L167.93,837.50 L167.96,839.50 L168.01,841.50 L168.05,843.50 L168.10,845.49 L168.14,847.49 L168.20,849.49 L168.25,851.49 L168.30,853.49 L168.36,855.49 L168.42,857.49 L168.49,859.49 L168.55,861.49 L168.62,863.49 L168.70,865.48 L168.78,867.48 L168.86,869.48 L168.95,871.48 L169.04,873.48 L169.15,875.47 L169.26,877.47 L169.38,879.46 L169.50,881.46 L169.63,883.46 L169.77,885.45 L169.92,887.44 L170.07,889.44 L170.23,891.43 L170.39,893.42 L170.56,895.42 L170.73,897.41 L170.91,899.40 L171.10,901.39 L171.29,903.38 L171.48,905.37 L171.68,907.36 L171.89,909.35 L172.10,911.34 L172.32,913.33 L172.54,915.32 L172.77,917.30 L173.01,919.29 L173.25,921.27 L173.50,923.26 L173.75,925.24 L174.01,927.22 L174.27,929.21 L174.53,931.19 L174.80,933.17 L175.07,935.15 L175.33,937.13 L175.61,939.12 L175.88,941.10 L176.15,943.08 L176.43,945.06 L176.72,947.04 L177.01,949.01 L177.31,950.99 L177.62,952.96 L177.94,954.93 L178.29,956.90 L178.64,958.87 L179.02,960.83 L179.40,962.79 L179.80,964.74 L180.21,966.70 L180.65,968.65 L181.11,970.59 L181.58,972.53 L182.06,974.47 L182.55,976.41 L183.04,978.35 L183.53,980.29 L184.02,982.23 L184.52,984.17 L185.02,986.10 L185.53,988.03 L186.06,989.96 L186.64,991.86 L187.28,993.75 L187.99,995.62 L188.76,997.46 L189.60,999.25 L190.70,1000.88 L191.98,1002.39 L193.37,1003.80 L194.85,1005.11 L196.43,1006.29 L198.09,1007.37 L199.81,1008.36 L201.56,1009.29 L203.35,1010.17 L205.16,1010.99 L206.99,1011.79 L208.83,1012.55 L210.69,1013.30 L212.55,1014.03 L214.41,1014.73 L216.29,1015.42 L218.17,1016.09 L220.06,1016.75 L221.95,1017.39 L223.85,1018.02 L225.75,1018.64 L227.65,1019.26 L229.55,1019.86 L231.46,1020.45 L233.38,1021.04 L235.29,1021.61 L237.21,1022.18 L239.13,1022.74 L241.05,1023.30 L242.97,1023.85 L244.89,1024.39 L246.82,1024.93 L248.75,1025.46 L250.68,1025.99 L252.61,1026.51 L254.54,1027.02 L256.47,1027.53 L258.41,1028.03 L260.35,1028.53 L262.29,1029.02 L264.23,1029.50 L266.17,1029.98 L268.11,1030.45 L270.06,1030.92 L272.00,1031.38 L273.95,1031.84 L275.90,1032.29 L277.85,1032.73 L279.80,1033.17 L281.75,1033.59 L283.71,1034.01 L285.66,1034.43 L287.62,1034.83 L289.58,1035.22 L291.54,1035.60 L293.51,1035.97 L295.47,1036.33 L297.44,1036.67 L299.41,1037.01 L301.39,1037.33 L303.36,1037.65 L305.34,1037.95 L307.31,1038.25 L309.29,1038.54 L311.27,1038.82 L313.25,1039.09 L315.24,1039.35 L317.22,1039.60 L319.20,1039.84 L321.19,1040.08 L323.17,1040.31 L325.16,1040.52 L327.15,1040.73 L329.14,1040.94 L331.13,1041.14 L333.12,1041.33 L335.11,1041.52 L337.10,1041.70 L339.09,1041.88 L341.09,1042.06 L343.08,1042.24 L345.07,1042.42 L347.06,1042.60 L349.05,1042.78 L351.05,1042.96 L353.04,1043.14 L355.03,1043.31 L357.02,1043.49 L359.01,1043.67 L361.01,1043.85 L363.00,1044.03 L364.99,1044.20 L366.98,1044.38 L368.97,1044.56 L370.97,1044.74 L372.96,1044.91 L374.95,1045.09 L376.94,1045.27 L378.93,1045.44 L380.93,1045.62 L382.92,1045.79 L384.91,1045.97 L386.90,1046.14 L388.90,1046.32 L390.89,1046.49 L392.88,1046.66 L394.87,1046.83 L396.87,1046.99 L398.86,1047.16 L400.85,1047.33 L402.85,1047.49 L404.84,1047.65 L406.83,1047.82 L408.83,1047.98 L410.82,1048.14 L412.81,1048.30 L414.81,1048.46 L416.80,1048.62 L418.79,1048.78 L420.79,1048.94 L422.78,1049.10 L424.78,1049.25 L426.77,1049.40 L428.76,1049.56 L430.76,1049.71 L432.75,1049.85 L434.75,1050.00 L436.74,1050.15 L438.74,1050.29 L440.73,1050.43 L442.73,1050.58 L444.72,1050.72 L446.72,1050.86 L448.71,1051.00 L450.71,1051.13 L452.70,1051.27 L454.70,1051.40 L456.69,1051.53 L458.69,1051.66 L460.69,1051.79 L462.68,1051.92 L464.68,1052.04 L466.67,1052.17 L468.67,1052.29 L470.67,1052.41 L472.66,1052.52 L474.66,1052.64 L476.66,1052.76 L478.65,1052.87 L480.65,1052.99 L482.65,1053.10 L484.64,1053.22 L486.64,1053.33 L488.64,1053.45 L490.63,1053.56 L492.63,1053.68 L494.63,1053.79 L496.62,1053.91 L498.62,1054.02 L500.62,1054.14 L502.61,1054.25 L504.61,1054.37 L506.61,1054.48 L508.60,1054.60 L510.60,1054.71 L512.60,1054.83 L514.59,1054.94 L516.59,1055.05 L518.59,1055.17 L520.58,1055.28 L522.58,1055.40 L524.58,1055.51 L526.57,1055.63 L528.57,1055.74 L530.57,1055.86 L532.56,1055.97 L534.56,1056.08 L536.56,1056.20 L538.55,1056.31 L540.55,1056.43 L542.55,1056.54 L544.54,1056.66 L546.54,1056.77 L548.54,1056.89 L550.53,1057.00 L552.53,1057.12 L554.53,1057.24 L556.52,1057.36 L558.52,1057.47 L560.52,1057.60 L562.51,1057.72 L564.51,1057.84 L566.51,1057.97 L568.50,1058.09 L570.50,1058.22 L572.49,1058.35 L574.49,1058.49 L576.48,1058.62 L578.48,1058.75 L580.48,1058.88 L582.47,1059.02 L584.47,1059.15 L586.46,1059.29 L588.46,1059.42 L590.45,1059.56 L592.45,1059.69 L594.44,1059.83 L596.44,1059.96 L598.43,1060.10 L600.43,1060.23 L602.42,1060.37 L604.42,1060.50 L606.42,1060.64 L608.41,1060.78 L610.41,1060.91 L612.40,1061.05 L614.40,1061.18 L616.39,1061.32 L618.39,1061.45 L620.38,1061.59 L622.38,1061.72 L624.37,1061.86 L626.37,1061.99 L628.37,1062.13 L630.36,1062.27 L632.36,1062.40 L634.35,1062.54 L636.35,1062.68 L638.34,1062.82 L640.34,1062.96 L642.33,1063.10 L644.33,1063.25 L646.32,1063.39 L648.32,1063.54 L650.31,1063.69 L652.30,1063.84 L654.30,1063.99 L656.29,1064.14 L658.29,1064.30 L660.28,1064.45 L662.27,1064.61 L664.27,1064.76 L666.26,1064.91 L668.26,1065.07 L670.25,1065.22 L672.24,1065.38 L674.24,1065.54 L676.23,1065.69 L678.23,1065.85 L680.22,1066.01 L682.21,1066.17 L684.21,1066.33 L686.20,1066.49 L688.19,1066.66 L690.19,1066.83 L692.18,1067.01 L694.17,1067.19 L696.16,1067.37 L698.15,1067.56 L700.14,1067.75 L702.13,1067.94 L704.12,1068.14 L706.11,1068.34 L708.10,1068.54 L710.09,1068.75 L712.08,1068.95 L714.07,1069.16 L716.06,1069.37 L718.05,1069.57 L720.03,1069.78 L722.02,1069.99 L724.00,1070.20 L725.98,1070.40 L727.96,1070.61 L729.95,1070.82 L731.94,1071.03 L733.93,1071.23 L735.92,1071.44 L737.92,1071.65 L739.91,1071.86 L741.90,1072.07 L743.90,1072.28 L745.90,1072.48 L747.00,1072.60 L747.00,1072.60" fill="none" stroke="#0000ff" stroke-width="4.8" stroke-linejoin="round"/>
<path d="M167.30,893.00 L167.31,895.00 L167.33,897.00 L167.34,899.00 L167.36,901.00 L167.37,903.00 L167.39,905.00 L167.40,907.00 L167.42,909.00 L167.43,911.00 L167.45,913.00 L167.46,915.00 L167.48,917.00 L167.49,919.00 L167.51,921.00 L167.52,923.00 L167.54,925.00 L167.55,927.00 L167.57,929.00 L167.58,931.00 L167.60,933.00 L167.61,935.00 L167.63,937.00 L167.64,939.00 L167.66,941.00 L167.67,943.00 L167.69,945.00 L167.71,947.00 L167.72,949.00 L167.74,951.00 L167.76,953.00 L167.79,955.00 L167.81,957.00 L167.84,959.00 L167.87,961.00 L167.91,963.00 L167.95,965.00 L167.99,967.00 L168.04,969.00 L168.09,970.99 L168.14,972.99 L168.19,974.99 L168.25,976.99 L168.31,978.99 L168.38,980.99 L168.45,982.99 L168.52,984.99 L168.60,986.98 L168.69,988.98 L168.78,990.98 L168.87,992.98 L168.97,994.98 L169.07,996.97 L169.18,998.97 L169.30,1000.97 L169.42,1002.96 L169.55,1004.96 L169.68,1006.95 L169.83,1008.95 L169.99,1010.94 L170.15,1012.93 L170.33,1014.92 L170.51,1016.92 L170.70,1018.91 L170.90,1020.89 L171.10,1022.88 L171.32,1024.87 L171.55,1026.86 L171.79,1028.84 L172.05,1030.82 L172.34,1032.80 L172.65,1034.77 L172.98,1036.74 L173.35,1038.70 L173.73,1040.67 L174.13,1042.62 L174.54,1044.58 L174.97,1046.53 L175.44,1048.47 L175.94,1050.40 L176.49,1052.32 L177.08,1054.23 L177.70,1056.13 L178.34,1058.03 L179.00,1059.91 L179.72,1061.76 L180.55,1063.57 L181.48,1065.32 L182.49,1067.03 L183.55,1068.72 L184.64,1070.39 L185.75,1072.05 L186.87,1073.71 L188.01,1075.35 L189.16,1076.98 L190.35,1078.58 L191.58,1080.14 L192.86,1081.65 L194.20,1083.10 L195.60,1084.49 L197.05,1085.83 L198.55,1087.12 L200.09,1088.37 L201.66,1089.58 L203.26,1090.76 L204.87,1091.93 L206.51,1093.07 L208.16,1094.19 L209.82,1095.29 L211.49,1096.39 L213.15,1097.49 L214.82,1098.59 L216.47,1099.71 L218.10,1100.85 L219.72,1102.01 L221.31,1103.21 L222.88,1104.43 L224.42,1105.69 L225.94,1106.98 L227.44,1108.29 L228.90,1109.64 L230.34,1111.02 L231.75,1112.42 L233.14,1113.85 L234.50,1115.31 L235.83,1116.80 L237.12,1118.31 L238.39,1119.84 L239.63,1121.40 L240.83,1122.99 L242.00,1124.60 L243.14,1126.24 L244.24,1127.89 L245.32,1129.57 L246.37,1131.27 L247.39,1132.98 L248.38,1134.71 L249.34,1136.45 L250.28,1138.20 L251.19,1139.96 L252.12,1141.73 L253.02,1143.51 L253.88,1145.32 L254.72,1147.14 L255.54,1148.96 L256.37,1150.79 L257.20,1152.62 L257.99,1154.36 L258.10,1154.60" fill="none" stroke="#ff0000" stroke-width="4.8" stroke-linejoin="round"/>
<path d="M167.60,893.00 L167.64,895.00 L167.68,897.00 L167.71,899.00 L167.75,901.00 L167.79,903.00 L167.83,905.00 L167.87,907.00 L167.91,909.00 L167.94,911.00 L167.98,913.00 L168.02,915.00 L168.06,917.00 L168.10,919.00 L168.14,920.99 L168.18,922.99 L168.22,924.99 L168.27,926.99 L168.31,928.99 L168.36,930.99 L168.42,932.99 L168.47,934.99 L168.54,936.99 L168.61,938.99 L168.68,940.99 L168.76,942.98 L168.84,944.98 L168.93,946.98 L169.03,948.98 L169.12,950.97 L169.22,952.97 L169.32,954.97 L169.43,956.97 L169.53,958.96 L169.64,960.96 L169.74,962.96 L169.85,964.95 L169.95,966.95 L170.06,968.95 L170.18,970.95 L170.29,972.94 L170.41,974.94 L170.53,976.93 L170.66,978.93 L170.79,980.93 L170.93,982.92 L171.08,984.91 L171.23,986.91 L171.39,988.90 L171.56,990.89 L171.74,992.88 L171.92,994.87 L172.11,996.86 L172.30,998.85 L172.51,1000.84 L172.73,1002.83 L172.97,1004.81 L173.23,1006.79 L173.52,1008.76 L173.84,1010.73 L174.19,1012.69 L174.60,1014.64 L175.04,1016.58 L175.54,1018.51 L176.08,1020.43 L176.68,1022.32 L177.34,1024.20 L178.07,1026.05 L178.89,1027.87 L179.76,1029.66 L180.68,1031.44 L181.65,1033.18 L182.68,1034.89 L183.76,1036.57 L184.87,1038.22 L186.03,1039.84 L187.25,1041.41 L188.54,1042.92 L189.89,1044.37 L191.30,1045.75 L192.78,1047.06 L194.32,1048.30 L195.91,1049.46 L197.55,1050.55 L199.24,1051.57 L200.96,1052.52 L202.73,1053.41 L204.52,1054.24 L206.34,1055.03 L208.18,1055.77 L210.03,1056.47 L211.90,1057.16 L213.77,1057.82 L215.66,1058.45 L217.56,1059.05 L219.47,1059.63 L221.39,1060.19 L223.31,1060.73 L225.24,1061.25 L227.17,1061.75 L229.11,1062.24 L231.05,1062.71 L233.00,1063.18 L234.94,1063.63 L236.89,1064.08 L238.84,1064.52 L240.80,1064.95 L242.75,1065.37 L244.71,1065.79 L246.66,1066.20 L248.62,1066.61 L250.58,1067.02 L252.53,1067.43 L254.49,1067.84 L256.45,1068.26 L258.40,1068.67 L260.36,1069.10 L262.31,1069.53 L264.26,1069.96 L266.21,1070.41 L268.16,1070.87 L270.10,1071.33 L272.04,1071.80 L273.99,1072.28 L275.93,1072.76 L277.86,1073.25 L279.80,1073.74 L281.74,1074.23 L283.68,1074.73 L285.61,1075.23 L287.55,1075.73 L289.49,1076.23 L291.42,1076.73 L293.35,1077.24 L295.29,1077.76 L297.22,1078.28 L299.14,1078.81 L301.07,1079.35 L302.99,1079.90 L304.91,1080.47 L306.82,1081.04 L308.73,1081.63 L310.64,1082.23 L312.54,1082.84 L314.44,1083.47 L316.33,1084.10 L318.23,1084.74 L320.12,1085.39 L322.01,1086.05 L323.89,1086.71 L325.77,1087.39 L327.65,1088.07 L329.53,1088.77 L331.39,1089.47 L333.26,1090.19 L335.12,1090.93 L336.97,1091.68 L338.82,1092.44 L340.66,1093.22 L342.49,1094.01 L344.32,1094.82 L346.14,1095.64 L347.95,1096.47 L349.77,1097.32 L351.57,1098.17 L353.38,1099.04 L355.18,1099.91 L356.97,1100.78 L358.77,1101.66 L360.56,1102.55 L362.35,1103.44 L364.14,1104.34 L365.93,1105.23 L367.71,1106.13 L369.49,1107.04 L371.27,1107.95 L373.04,1108.86 L374.81,1109.78 L376.59,1110.70 L378.36,1111.62 L380.13,1112.55 L381.89,1113.50 L383.65,1114.46 L385.40,1115.42 L387.16,1116.38 L388.92,1117.33 L390.68,1118.29 L392.00,1119.00 L392.00,1119.00" fill="none" stroke="#008000" stroke-width="4.8" stroke-linejoin="round"/>
<path d="M167.40,709.50 L167.40,711.50 L167.40,713.50 L167.41,715.50 L167.41,717.50 L167.41,719.50 L167.41,721.50 L167.42,723.50 L167.42,725.50 L167.42,727.50 L167.42,729.50 L167.42,731.50 L167.43,733.50 L167.43,735.50 L167.43,737.50 L167.43,739.50 L167.44,741.50 L167.44,743.50 L167.44,745.50 L167.44,747.50 L167.44,749.50 L167.45,751.50 L167.45,753.50 L167.45,755.50 L167.45,757.50 L167.46,759.50 L167.46,761.50 L167.46,763.50 L167.46,765.50 L167.46,767.50 L167.47,769.50 L167.47,771.50 L167.47,773.50 L167.47,775.50 L167.48,777.50 L167.48,779.50 L167.48,781.50 L167.48,783.50 L167.49,785.50 L167.49,787.50 L167.49,789.50 L167.49,791.50 L167.50,793.50 L167.50,795.50 L167.51,797.50 L167.51,799.50 L167.52,801.50 L167.53,803.50 L167.54,805.50 L167.55,807.50 L167.56,809.50 L167.57,811.50 L167.59,813.50 L167.61,815.50 L167.62,817.50 L167.65,819.50 L167.67,821.50 L167.69,823.50 L167.72,825.50 L167.75,827.50 L167.78,829.50 L167.82,831.50 L167.85,833.50 L167.89,835.50 L167.93,837.50 L167.96,839.50 L168.01,841.50 L168.05,843.50 L168.10,845.49 L168.14,847.49 L168.20,849.49 L168.25,851.49 L168.30,853.49 L168.36,855.49 L168.42,857.49 L168.49,859.49 L168.55,861.49 L168.62,863.49 L168.70,865.48 L168.78,867.48 L168.86,869.48 L168.95,871.48 L169.04,873.48 L169.15,875.47 L169.26,877.47 L169.38,879.46 L169.50,881.46 L169.63,883.46 L169.77,885.45 L169.92,887.44 L170.07,889.44 L170.23,891.43 L170.39,893.42 L170.56,895.42 L170.73,897.41 L170.91,899.40 L171.10,901.39 L171.29,903.38 L171.48,905.37 L171.68,907.36 L171.89,909.35 L172.10,911.34 L172.32,913.33 L172.54,915.32 L172.77,917.30 L173.01,919.29 L173.25,921.27 L173.50,923.26 L173.75,925.24 L174.01,927.22 L174.27,929.21 L174.53,931.19 L174.80,933.17 L175.07,935.15 L175.33,937.13 L175.61,939.12 L175.88,941.10 L176.15,943.08 L176.43,945.06 L176.72,947.04 L177.01,949.01 L177.31,950.99 L177.62,952.96 L177.95,954.93 L178.30,956.90 L178.66,958.86 L179.05,960.82 L179.44,962.78 L179.85,964.73 L180.28,966.68 L180.74,968.62 L181.22,970.56 L181.73,972.49 L182.25,974.42 L182.79,976.34 L183.35,978.26 L183.93,980.18 L184.52,982.08 L185.14,983.98 L185.79,985.87 L186.48,987.73 L187.24,989.57 L188.08,991.37 L189.00,993.14 L189.99,994.86 L191.06,996.53 L192.26,998.08 L193.68,999.41 L195.25,1000.62 L196.89,1001.72 L198.60,1002.71 L200.37,1003.56 L202.20,1004.32 L204.06,1005.00 L205.95,1005.63 L207.85,1006.23 L209.76,1006.81 L211.68,1007.37 L213.60,1007.92 L215.52,1008.45 L217.45,1008.97 L219.39,1009.48 L221.32,1009.99 L223.25,1010.49 L225.19,1010.99 L227.13,1011.50 L229.06,1012.00 L231.00,1012.50 L232.93,1013.00 L234.87,1013.50 L236.80,1014.01 L238.74,1014.51 L240.67,1015.02 L242.61,1015.54 L244.54,1016.05 L246.47,1016.57 L248.40,1017.09 L250.33,1017.61 L252.26,1018.13 L254.19,1018.66 L256.12,1019.19 L258.05,1019.71 L259.98,1020.24 L261.91,1020.77 L263.84,1021.30 L265.77,1021.83 L267.70,1022.36 L269.62,1022.89 L271.55,1023.42 L273.48,1023.95 L275.41,1024.48 L277.34,1025.01 L279.27,1025.54 L281.19,1026.07 L283.12,1026.60 L285.05,1027.13 L286.98,1027.66 L288.91,1028.18 L290.84,1028.71 L292.77,1029.22 L294.70,1029.73 L296.64,1030.24 L298.57,1030.73 L300.51,1031.21 L302.45,1031.68 L304.40,1032.13 L306.35,1032.56 L308.30,1032.98 L310.26,1033.37 L312.22,1033.75 L314.18,1034.12 L316.15,1034.46 L318.12,1034.79 L320.09,1035.12 L322.07,1035.43 L324.04,1035.73 L326.02,1036.02 L328.00,1036.30 L329.98,1036.57 L331.96,1036.83 L333.95,1037.08 L335.93,1037.32 L337.92,1037.55 L339.90,1037.78 L341.89,1037.99 L343.88,1038.19 L345.87,1038.39 L347.86,1038.57 L349.85,1038.75 L351.84,1038.92 L353.84,1039.08 L355.83,1039.24 L357.82,1039.39 L359.82,1039.53 L361.81,1039.66 L363.81,1039.78 L365.81,1039.90 L367.80,1040.02 L369.80,1040.12 L371.80,1040.23 L373.79,1040.33 L375.79,1040.43 L377.79,1040.53 L379.79,1040.63 L381.78,1040.72 L383.78,1040.82 L385.78,1040.91 L387.78,1041.01 L389.77,1041.10 L391.77,1041.19 L393.77,1041.29 L395.77,1041.38 L397.77,1041.48 L399.76,1041.57 L401.76,1041.66 L403.76,1041.76 L405.76,1041.85 L407.75,1041.95 L409.75,1042.04 L411.75,1042.14 L413.75,1042.23 L415.75,1042.33 L417.74,1042.42 L419.74,1042.52 L421.74,1042.62 L423.74,1042.72 L425.73,1042.82 L427.73,1042.92 L429.73,1043.02 L431.73,1043.12 L433.72,1043.22 L435.72,1043.33 L437.72,1043.43 L439.71,1043.54 L441.71,1043.64 L443.71,1043.75 L445.71,1043.86 L447.70,1043.97 L449.70,1044.07 L451.70,1044.18 L453.69,1044.29 L455.69,1044.39 L457.69,1044.50 L459.69,1044.60 L461.68,1044.71 L463.68,1044.81 L465.68,1044.92 L467.68,1045.02 L469.67,1045.12 L471.67,1045.22 L473.67,1045.33 L475.66,1045.43 L477.66,1045.53 L479.66,1045.64 L481.66,1045.74 L483.65,1045.85 L485.65,1045.95 L487.65,1046.06 L489.65,1046.17 L491.64,1046.28 L493.64,1046.40 L495.64,1046.51 L497.63,1046.63 L499.63,1046.75 L501.62,1046.88 L503.62,1047.00 L505.62,1047.13 L507.61,1047.26 L509.61,1047.39 L511.60,1047.52 L513.60,1047.65 L515.59,1047.78 L517.59,1047.91 L519.59,1048.04 L521.58,1048.17 L523.58,1048.30 L525.57,1048.43 L527.57,1048.57 L529.56,1048.70 L531.56,1048.83 L533.56,1048.96 L535.55,1049.09 L537.55,1049.22 L539.54,1049.36 L541.54,1049.49 L543.53,1049.62 L545.53,1049.75 L547.53,1049.88 L549.52,1050.01 L551.52,1050.14 L553.51,1050.27 L555.51,1050.40 L557.50,1050.52 L559.50,1050.65 L561.50,1050.77 L563.49,1050.89 L565.49,1051.01 L567.49,1051.13 L569.48,1051.25 L571.48,1051.36 L573.48,1051.47 L575.47,1051.59 L577.47,1051.70 L579.47,1051.81 L581.46,1051.91 L583.46,1052.02 L585.46,1052.13 L587.46,1052.24 L589.45,1052.35 L591.45,1052.46 L593.45,1052.56 L595.44,1052.67 L597.44,1052.78 L599.44,1052.89 L601.43,1053.00 L603.43,1053.10 L605.43,1053.21 L607.43,1053.32 L609.42,1053.43 L611.42,1053.54 L613.42,1053.64 L615.41,1053.75 L617.41,1053.86 L619.41,1053.97 L621.41,1054.08 L623.40,1054.18 L625.40,1054.29 L627.40,1054.40 L629.39,1054.51 L631.39,1054.62 L633.39,1054.73 L635.38,1054.84 L637.38,1054.95 L639.38,1055.06 L641.38,1055.17 L643.37,1055.29 L645.37,1055.40 L647.37,1055.52 L649.36,1055.63 L651.36,1055.75 L653.36,1055.87 L655.35,1055.99 L657.35,1056.11 L659.34,1056.23 L661.34,1056.36 L663.34,1056.48 L665.33,1056.60 L667.33,1056.73 L669.33,1056.85 L671.32,1056.97 L673.32,1057.10 L675.31,1057.22 L677.31,1057.34 L679.31,1057.47 L681.30,1057.59 L683.30,1057.72 L685.29,1057.84 L687.29,1057.97 L689.29,1058.10 L691.28,1058.23 L693.28,1058.36 L695.27,1058.49 L697.27,1058.62 L699.26,1058.76 L701.26,1058.89 L703.26,1059.03 L705.25,1059.16 L707.25,1059.30 L709.24,1059.44 L711.24,1059.58 L713.23,1059.71 L715.23,1059.85 L717.22,1059.99 L719.22,1060.13 L721.21,1060.27 L723.21,1060.41 L725.20,1060.55 L727.20,1060.69 L729.19,1060.83 L731.18,1060.97 L733.17,1061.10 L735.16,1061.24 L737.15,1061.38 L739.15,1061.52 L741.14,1061.66 L743.14,1061.80 L745.14,1061.94 L747.13,1062.08 L749.13,1062.22 L751.13,1062.36 L753.13,1062.50 L754.60,1062.60 L754.60,1062.60" fill="none" stroke="#0000ff" stroke-width="4.8" stroke-linejoin="round" stroke-dasharray="12.1 12.1" stroke-dashoffset="22.20"/>
<path d="M167.40,709.50 L167.40,711.50 L167.40,713.50 L167.41,715.50 L167.41,717.50 L167.41,719.50 L167.41,721.50 L167.42,723.50 L167.42,725.50 L167.42,727.50 L167.42,729.50 L167.42,731.50 L167.43,733.50 L167.43,735.50 L167.43,737.50 L167.43,739.50 L167.44,741.50 L167.44,743.50 L167.44,745.50 L167.44,747.50 L167.44,749.50 L167.45,751.50 L167.45,753.50 L167.45,755.50 L167.45,757.50 L167.46,759.50 L167.46,761.50 L167.46,763.50 L167.46,765.50 L167.46,767.50 L167.47,769.50 L167.47,771.50 L167.47,773.50 L167.47,775.50 L167.48,777.50 L167.48,779.50 L167.48,781.50 L167.48,783.50 L167.48,785.50 L167.49,787.50 L167.49,789.50 L167.49,791.50 L167.49,793.50 L167.50,795.50 L167.50,797.50 L167.50,799.50 L167.51,801.50 L167.51,803.50 L167.51,805.50 L167.52,807.50 L167.52,809.50 L167.52,811.50 L167.53,813.50 L167.53,815.50 L167.54,817.50 L167.54,819.50 L167.54,821.50 L167.55,823.50 L167.55,825.50 L167.56,827.50 L167.56,829.50 L167.56,831.50 L167.57,833.50 L167.57,835.50 L167.58,837.50 L167.58,839.50 L167.59,841.50 L167.59,843.50 L167.60,845.50 L167.61,847.50 L167.61,849.50 L167.62,851.50 L167.63,853.50 L167.64,855.50 L167.65,857.50 L167.66,859.50 L167.67,861.50 L167.68,863.50 L167.69,865.50 L167.71,867.50 L167.72,869.50 L167.73,871.50 L167.74,873.50 L167.75,875.50 L167.77,877.50 L167.78,879.50 L167.79,881.50 L167.80,883.50 L167.82,885.50 L167.83,887.50 L167.85,889.50 L167.86,891.50 L167.88,893.50 L167.90,895.50 L167.92,897.50 L167.94,899.50 L167.96,901.50 L167.99,903.50 L168.02,905.50 L168.05,907.50 L168.08,909.50 L168.11,911.50 L168.14,913.50 L168.17,915.50 L168.21,917.50 L168.24,919.50 L168.28,921.50 L168.32,923.50 L168.36,925.49 L168.40,927.49 L168.44,929.49 L168.49,931.49 L168.55,933.49 L168.60,935.49 L168.67,937.49 L168.73,939.49 L168.81,941.49 L168.89,943.48 L168.98,945.48 L169.07,947.48 L169.17,949.48 L169.28,951.47 L169.38,953.47 L169.50,955.47 L169.61,957.46 L169.74,959.46 L169.86,961.46 L169.99,963.45 L170.13,965.45 L170.27,967.44 L170.41,969.44 L170.56,971.43 L170.71,973.42 L170.87,975.42 L171.03,977.41 L171.19,979.40 L171.36,981.40 L171.54,983.39 L171.73,985.38 L171.92,987.37 L172.13,989.36 L172.34,991.34 L172.57,993.33 L172.80,995.31 L173.05,997.29 L173.31,999.27 L173.59,1001.24 L173.90,1003.21 L174.24,1005.17 L174.61,1007.12 L175.03,1009.06 L175.51,1010.98 L176.06,1012.88 L176.67,1014.76 L177.37,1016.61 L178.13,1018.44 L178.96,1020.23 L179.88,1021.97 L180.90,1023.64 L182.06,1025.23 L183.34,1026.73 L184.70,1028.17 L186.10,1029.59 L187.53,1030.99 L188.97,1032.36 L190.46,1033.69 L191.99,1034.96 L193.56,1036.18 L195.17,1037.36 L196.81,1038.49 L198.47,1039.59 L200.16,1040.65 L201.87,1041.67 L203.60,1042.66 L205.35,1043.61 L207.12,1044.51 L208.91,1045.38 L210.72,1046.20 L212.55,1046.97 L214.40,1047.69 L216.27,1048.38 L218.13,1049.05 L220.02,1049.68 L221.91,1050.27 L223.82,1050.82 L225.74,1051.34 L227.67,1051.83 L229.61,1052.28 L231.56,1052.72 L233.51,1053.13 L235.47,1053.53 L237.43,1053.92 L239.39,1054.30 L241.35,1054.67 L243.32,1055.03 L245.29,1055.40 L247.25,1055.76 L249.22,1056.12 L251.19,1056.48 L253.15,1056.85 L255.12,1057.21 L257.09,1057.57 L259.05,1057.94 L261.02,1058.31 L262.98,1058.69 L264.94,1059.07 L266.91,1059.46 L268.87,1059.85 L270.83,1060.24 L272.78,1060.64 L274.74,1061.05 L276.70,1061.46 L278.66,1061.86 L280.61,1062.27 L282.57,1062.66 L284.53,1063.05 L286.49,1063.43 L288.46,1063.80 L290.42,1064.15 L292.39,1064.48 L294.36,1064.80 L296.34,1065.10 L298.32,1065.39 L300.29,1065.67 L302.27,1065.94 L304.26,1066.20 L306.24,1066.46 L308.22,1066.72 L310.21,1066.97 L312.19,1067.22 L314.17,1067.48 L316.16,1067.74 L318.14,1068.00 L320.12,1068.26 L322.10,1068.52 L324.09,1068.79 L326.07,1069.07 L328.05,1069.34 L330.03,1069.62 L332.01,1069.91 L333.99,1070.19 L335.97,1070.48 L337.94,1070.77 L339.92,1071.07 L341.90,1071.36 L343.88,1071.66 L345.85,1071.97 L347.83,1072.27 L349.81,1072.58 L351.78,1072.89 L353.76,1073.21 L355.73,1073.53 L357.70,1073.86 L359.67,1074.19 L361.64,1074.53 L363.61,1074.88 L365.58,1075.24 L367.55,1075.60 L369.51,1075.98 L371.47,1076.36 L373.43,1076.75 L375.39,1077.15 L377.35,1077.55 L379.31,1077.97 L381.26,1078.38 L383.22,1078.81 L385.17,1079.23 L387.12,1079.67 L389.07,1080.10 L391.03,1080.54 L392.97,1080.98 L394.92,1081.43 L396.87,1081.88 L398.81,1082.33 L400.76,1082.78 L402.71,1083.23 L404.65,1083.69 L406.60,1084.15 L408.55,1084.61 L410.49,1085.07 L412.44,1085.53 L414.39,1085.99 L416.33,1086.45 L418.28,1086.92 L419.90,1087.30 L419.90,1087.30" fill="none" stroke="#008000" stroke-width="4.8" stroke-linejoin="round" stroke-dasharray="12.1 12.1" stroke-dashoffset="1.64"/>
<path d="M167.30,709.50 L167.30,711.50 L167.30,713.50 L167.31,715.50 L167.31,717.50 L167.31,719.50 L167.31,721.50 L167.32,723.50 L167.32,725.50 L167.32,727.50 L167.32,729.50 L167.32,731.50 L167.33,733.50 L167.33,735.50 L167.33,737.50 L167.33,739.50 L167.34,741.50 L167.34,743.50 L167.34,745.50 L167.34,747.50 L167.34,749.50 L167.35,751.50 L167.35,753.50 L167.35,755.50 L167.35,757.50 L167.36,759.50 L167.36,761.50 L167.36,763.50 L167.36,765.50 L167.36,767.50 L167.37,769.50 L167.37,771.50 L167.37,773.50 L167.37,775.50 L167.38,777.50 L167.38,779.50 L167.38,781.50 L167.38,783.50 L167.38,785.50 L167.39,787.50 L167.39,789.50 L167.39,791.50 L167.39,793.50 L167.39,795.50 L167.40,797.50 L167.40,799.50 L167.40,801.50 L167.40,803.50 L167.41,805.50 L167.41,807.50 L167.41,809.50 L167.41,811.50 L167.41,813.50 L167.42,815.50 L167.42,817.50 L167.42,819.50 L167.42,821.50 L167.42,823.50 L167.43,825.50 L167.43,827.50 L167.43,829.50 L167.43,831.50 L167.43,833.50 L167.44,835.50 L167.44,837.50 L167.44,839.50 L167.44,841.50 L167.44,843.50 L167.45,845.50 L167.45,847.50 L167.45,849.50 L167.45,851.50 L167.45,853.50 L167.46,855.50 L167.46,857.50 L167.46,859.50 L167.46,861.50 L167.46,863.50 L167.47,865.50 L167.47,867.50 L167.47,869.50 L167.47,871.50 L167.47,873.50 L167.48,875.50 L167.48,877.50 L167.48,879.50 L167.48,881.50 L167.48,883.50 L167.49,885.50 L167.49,887.50 L167.49,889.50 L167.50,891.50 L167.50,893.50 L167.51,895.50 L167.51,897.50 L167.52,899.50 L167.53,901.50 L167.54,903.50 L167.55,905.50 L167.57,907.50 L167.58,909.50 L167.60,911.50 L167.61,913.50 L167.63,915.50 L167.65,917.50 L167.66,919.50 L167.68,921.50 L167.70,923.50 L167.71,925.50 L167.73,927.50 L167.75,929.50 L167.76,931.50 L167.78,933.50 L167.80,935.50 L167.81,937.50 L167.83,939.50 L167.85,941.50 L167.86,943.50 L167.88,945.50 L167.90,947.50 L167.92,949.50 L167.94,951.50 L167.97,953.50 L168.00,955.50 L168.03,957.50 L168.07,959.50 L168.11,961.50 L168.16,963.49 L168.21,965.49 L168.27,967.49 L168.33,969.49 L168.39,971.49 L168.46,973.49 L168.52,975.49 L168.59,977.49 L168.67,979.49 L168.74,981.48 L168.83,983.48 L168.92,985.48 L169.01,987.48 L169.12,989.47 L169.23,991.47 L169.36,993.47 L169.49,995.46 L169.63,997.45 L169.78,999.45 L169.94,1001.44 L170.11,1003.43 L170.28,1005.43 L170.46,1007.42 L170.66,1009.41 L170.87,1011.39 L171.10,1013.38 L171.35,1015.36 L171.61,1017.34 L171.90,1019.32 L172.20,1021.29 L172.51,1023.27 L172.84,1025.24 L173.19,1027.20 L173.55,1029.17 L173.93,1031.13 L174.32,1033.09 L174.74,1035.05 L175.18,1037.00 L175.64,1038.94 L176.13,1040.88 L176.64,1042.81 L177.17,1044.73 L177.73,1046.65 L178.32,1048.55 L178.96,1050.43 L179.68,1052.28 L180.51,1054.08 L181.44,1055.83 L182.45,1057.54 L183.55,1059.17 L184.78,1060.69 L186.15,1062.07 L187.65,1063.32 L189.23,1064.50 L190.85,1065.64 L192.50,1066.76 L194.16,1067.87 L195.83,1068.96 L197.51,1070.03 L199.21,1071.06 L200.94,1072.05 L202.69,1073.00 L204.46,1073.91 L206.25,1074.78 L208.06,1075.63 L209.89,1076.44 L211.72,1077.22 L213.57,1077.98 L215.42,1078.74 L217.27,1079.47 L219.14,1080.18 L221.01,1080.88 L222.89,1081.56 L224.77,1082.24 L226.66,1082.91 L228.54,1083.58 L230.42,1084.25 L232.30,1084.93 L234.18,1085.61 L236.05,1086.31 L237.91,1087.03 L239.77,1087.77 L241.62,1088.53 L243.46,1089.31 L245.29,1090.11 L247.11,1090.93 L248.92,1091.76 L250.73,1092.62 L252.53,1093.49 L254.32,1094.38 L256.10,1095.28 L257.88,1096.20 L259.64,1097.13 L261.40,1098.08 L263.15,1099.05 L264.88,1100.04 L266.59,1101.06 L268.29,1102.10 L269.97,1103.17 L271.63,1104.27 L273.28,1105.39 L274.91,1106.52 L276.53,1107.67 L278.15,1108.83 L279.77,1110.01 L281.38,1111.20 L283.00,1112.37 L284.63,1113.53 L286.27,1114.68 L287.92,1115.84 L289.00,1116.60 L289.00,1116.60" fill="none" stroke="#ff0000" stroke-width="4.8" stroke-linejoin="round" stroke-dasharray="12.1 12.1" stroke-dashoffset="23.24"/>
<line x1="167.4" y1="709.5" x2="167.5" y2="870" stroke="#0000ff" stroke-width="4.8"/>
<line x1="167.4" y1="709.5" x2="167.5" y2="893" stroke="#ff0000" stroke-width="4.8" stroke-dasharray="11.2 13.0" stroke-dashoffset="15.9"/>
<rect x="443.9" y="724.2" width="362.4" height="66.2" fill="#fff" stroke="#2a2a2a" stroke-width="1.7"/>
<rect x="456.7" y="746.2" width="68.2" height="22.7" fill="#d2d2d2" stroke="#333" stroke-width="2"/>
<text x="534.99" y="768.00" font-size="42.50" textLength="29.11" lengthAdjust="spacingAndGlyphs" style="" >Φ</text>
<text x="565.48" y="774.00" font-size="27.00" textLength="13.47" lengthAdjust="spacingAndGlyphs" style="font-style:italic;" >s</text>
<line x1="594.4" y1="757.7" x2="619.6" y2="757.7" stroke="#1c1c1c" stroke-width="1.8"/>
<text x="632.10" y="768.00" font-size="42.50" textLength="29.00" lengthAdjust="spacingAndGlyphs" style="" >Φ</text>
<text x="660.80" y="774.00" font-size="27.00" textLength="10.42" lengthAdjust="spacingAndGlyphs" style="font-style:italic;" >l</text>
<path d="M712.0,742.9 L688.8,754.1 L712.0,765.1" fill="none" stroke="#1c1c1c" stroke-width="1.8" stroke-linejoin="miter"/>
<line x1="687.9" y1="773.0" x2="712.3" y2="773.0" stroke="#1c1c1c" stroke-width="1.9"/>
<text x="726.82" y="768.00" font-size="42.50" textLength="20.76" lengthAdjust="spacingAndGlyphs" style="" >0</text>
<text x="754.84" y="768.00" font-size="42.50" textLength="29.52" lengthAdjust="spacingAndGlyphs" style="" >V</text>
<text x="156.14" y="1214.40" font-size="42.00" textLength="20.31" lengthAdjust="spacingAndGlyphs" style="" >0</text>
<text x="272.30" y="1214.40" font-size="42.00" textLength="52.63" lengthAdjust="spacingAndGlyphs" style="" >0.2</text>
<text x="404.49" y="1214.40" font-size="42.00" textLength="51.74" lengthAdjust="spacingAndGlyphs" style="" >0.4</text>
<text x="536.64" y="1214.40" font-size="42.00" textLength="51.93" lengthAdjust="spacingAndGlyphs" style="" >0.6</text>
<text x="668.80" y="1214.40" font-size="42.00" textLength="52.08" lengthAdjust="spacingAndGlyphs" style="" >0.8</text>
<text x="817.06" y="1214.40" font-size="42.00" textLength="19.80" lengthAdjust="spacingAndGlyphs" style="" >1</text>
<line x1="71.02" y1="1176.30" x2="96.11" y2="1176.30" stroke="#1c1c1c" stroke-width="1.8"/><text x="99.55" y="1186.60" font-size="42.00" textLength="52.63" lengthAdjust="spacingAndGlyphs" style="" >0.2</text>
<text x="131.49" y="1093.88" font-size="42.00" textLength="20.31" lengthAdjust="spacingAndGlyphs" style="" >0</text>
<text x="99.55" y="1001.16" font-size="42.00" textLength="52.63" lengthAdjust="spacingAndGlyphs" style="" >0.2</text>
<text x="99.57" y="908.44" font-size="42.00" textLength="51.74" lengthAdjust="spacingAndGlyphs" style="" >0.4</text>
<text x="99.57" y="815.72" font-size="42.00" textLength="51.93" lengthAdjust="spacingAndGlyphs" style="" >0.6</text>
<text x="99.56" y="723.00" font-size="42.00" textLength="52.08" lengthAdjust="spacingAndGlyphs" style="" >0.8</text>
<text x="408.30" y="1269.70" font-size="42.50" textLength="93.64" lengthAdjust="spacingAndGlyphs" style="" >Time</text>
<text x="516.29" y="1269.70" font-size="42.50" textLength="30.10" lengthAdjust="spacingAndGlyphs" style="" >in</text>
<text x="563.28" y="1269.70" font-size="42.50" textLength="21.28" lengthAdjust="spacingAndGlyphs" style="" >h</text>
<g transform="translate(34.6,0) rotate(-90)">
<text x="-1055.12" y="0.00" font-size="42.50" textLength="27.15" lengthAdjust="spacingAndGlyphs" style="" >Φ</text>
<text x="-1024.76" y="6.40" font-size="27.00" textLength="11.56" lengthAdjust="spacingAndGlyphs" style="font-style:italic;" >s</text>
<line x1="-996.8" y1="-10.3" x2="-972.4" y2="-10.3" stroke="#1c1c1c" stroke-width="1.8"/>
<text x="-958.74" y="0.00" font-size="42.50" textLength="27.48" lengthAdjust="spacingAndGlyphs" style="" >Φ</text>
<text x="-930.14" y="6.40" font-size="27.00" textLength="9.60" lengthAdjust="spacingAndGlyphs" style="font-style:italic;" >l</text>
<text x="-904.03" y="0.00" font-size="42.50" textLength="34.29" lengthAdjust="spacingAndGlyphs" style="" >in</text>
<text x="-856.15" y="0.00" font-size="42.50" textLength="29.00" lengthAdjust="spacingAndGlyphs" style="" >V</text>
</g>
<text x="463.00" y="695.20" font-size="45.00" textLength="13.61" lengthAdjust="spacingAndGlyphs" style="" >(</text>
<text x="480.60" y="694.80" font-size="41.50" textLength="19.16" lengthAdjust="spacingAndGlyphs" style="" >b</text>
<text x="500.85" y="695.20" font-size="45.00" textLength="12.97" lengthAdjust="spacingAndGlyphs" style="" >)</text>
</svg>
</body></html>
